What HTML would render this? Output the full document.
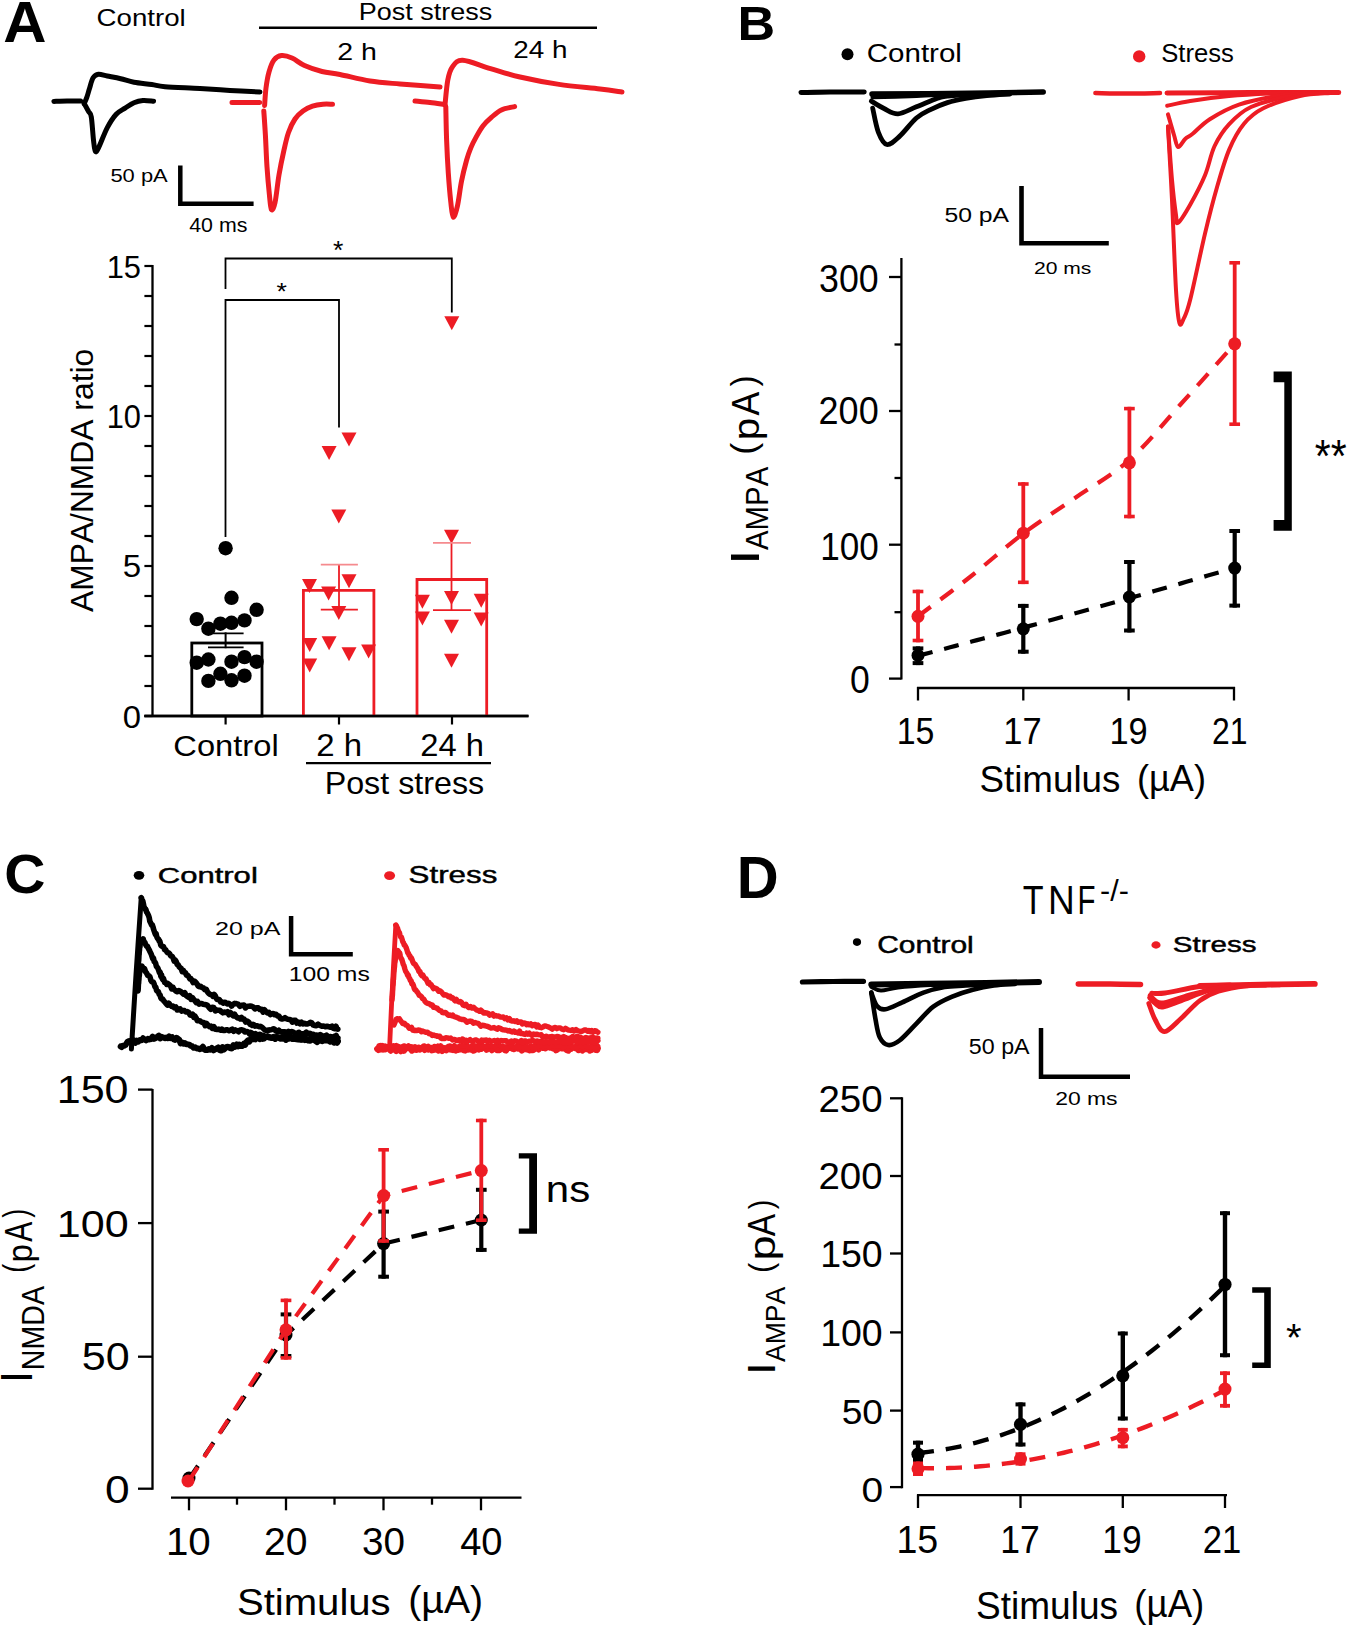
<!DOCTYPE html>
<html><head><meta charset="utf-8"><style>
html,body{margin:0;padding:0;background:#fff;}
svg{display:block;font-family:"Liberation Sans", sans-serif;font-kerning:none;}
</style></head><body>
<svg width="1348" height="1628" viewBox="0 0 1348 1628">
<rect width="1348" height="1628" fill="#fff"/>
<text transform="translate(3.31 41.5) scale(1.0306 1)" font-size="58.14" font-weight="bold" fill="#000000">A</text>
<text transform="translate(96.59 26) scale(1.1597 1)" font-size="23.87" fill="#000000">Control</text>
<text transform="translate(358.78 19.5) scale(1.0931 1)" font-size="24.71" fill="#000000">Post stress</text>
<line x1="259" y1="27.8" x2="597" y2="27.8" stroke="#000000" stroke-width="2.6" stroke-linecap="butt"/>
<text transform="translate(337.16 59.7) scale(1.2099 1)" font-size="23.6" fill="#000000">2 h</text>
<text transform="translate(513.2 58.4) scale(1.1467 1)" font-size="24.29" fill="#000000">24 h</text>
<path d="M53.9 101.4 C56.08 101.33 62.55 101.07 67 101 C71.45 100.93 78.33 101 80.6 101" fill="none" stroke="#000000" stroke-width="5" stroke-linejoin="round" stroke-linecap="round"/>
<path d="M84.2 103.6 C84.63 102.57 85.92 99.92 86.8 97.4 C87.68 94.88 88.45 91.77 89.5 88.5 C90.55 85.23 91.62 80.18 93.1 77.8 C94.58 75.42 96.03 74.5 98.4 74.2 C100.77 73.9 103.58 75.25 107.3 76 C111.02 76.75 116.25 77.65 120.7 78.7 C125.15 79.75 128.82 81.33 134 82.3 C139.18 83.27 146.63 83.77 151.8 84.5 C156.97 85.23 156.97 86.03 165 86.7 C173.03 87.37 189.17 87.87 200 88.5 C210.83 89.13 220 89.92 230 90.5 C240 91.08 255 91.75 260 92" fill="none" stroke="#000000" stroke-width="5" stroke-linejoin="round" stroke-linecap="round"/>
<path d="M84.2 103.6 C84.93 104.93 87.42 109.37 88.6 111.6 C89.78 113.83 90.48 112.25 91.3 117 C92.12 121.75 92.83 134.4 93.5 140.1 C94.17 145.8 94.48 149.87 95.3 151.2 C96.12 152.53 96.4 152.02 98.4 148.1 C100.4 144.18 104.33 133.33 107.3 127.7 C110.27 122.07 113.23 117.57 116.2 114.3 C119.17 111.03 122.13 110.03 125.1 108.1 C128.07 106.17 131.03 103.97 134 102.7 C136.97 101.43 139.63 100.75 142.9 100.5 C146.17 100.25 151.82 101.08 153.6 101.2" fill="none" stroke="#000000" stroke-width="5" stroke-linejoin="round" stroke-linecap="round"/>
<path d="M232 102.5 C234.5 102.5 242.37 102.48 247 102.5 C251.63 102.52 257.67 102.58 259.8 102.6" fill="none" stroke="#ED1C24" stroke-width="5" stroke-linejoin="round" stroke-linecap="round"/>
<path d="M264.6 105.4 C264.83 102.5 265.27 93.57 266 88 C266.73 82.43 267.67 76.67 269 72 C270.33 67.33 271.92 62.73 274 60 C276.08 57.27 278.5 55.93 281.5 55.6 C284.5 55.27 288.17 56.35 292 58 C295.83 59.65 299.5 63.25 304.5 65.5 C309.5 67.75 316.08 70 322 71.5 C327.92 73 332 72.92 340 74.5 C348 76.08 360 79.42 370 81 C380 82.58 388.33 83 400 84 C411.67 85 433.33 86.5 440 87" fill="none" stroke="#ED1C24" stroke-width="5" stroke-linejoin="round" stroke-linecap="round"/>
<path d="M263.8 111 C264.07 115 264.87 125.68 265.4 135 C265.93 144.32 266.33 156.93 267 166.9 C267.67 176.87 268.67 187.7 269.4 194.8 C270.13 201.9 270.47 208.17 271.4 209.5 C272.33 210.83 273.73 208.57 275 202.8 C276.27 197.03 277.53 183.55 279 174.9 C280.47 166.25 282.22 157.97 283.8 150.9 C285.38 143.83 286.63 137.82 288.5 132.5 C290.37 127.18 292.58 122.58 295 119 C297.42 115.42 300.08 113.13 303 111 C305.92 108.87 309.18 107.33 312.5 106.2 C315.82 105.07 319.57 104.53 322.9 104.2 C326.23 103.87 330.9 104.2 332.5 104.2" fill="none" stroke="#ED1C24" stroke-width="5" stroke-linejoin="round" stroke-linecap="round"/>
<path d="M415 101 C417.5 101.25 425.15 101.92 430 102.5 C434.85 103.08 441.75 104.17 444.1 104.5" fill="none" stroke="#ED1C24" stroke-width="5" stroke-linejoin="round" stroke-linecap="round"/>
<path d="M445 105 C445.47 100.83 446.55 86.37 447.8 80 C449.05 73.63 450.02 70.08 452.5 66.8 C454.98 63.52 456.37 60 462.7 60.3 C469.03 60.6 480.95 65.82 490.5 68.6 C500.05 71.38 508.58 74.37 520 77 C531.42 79.63 545.67 82.4 559 84.4 C572.33 86.4 589.5 87.73 600 89 C610.5 90.27 618.33 91.5 622 92" fill="none" stroke="#ED1C24" stroke-width="5" stroke-linejoin="round" stroke-linecap="round"/>
<path d="M445.8 106.6 C445.93 112.13 446.18 128.73 446.6 139.8 C447.02 150.87 447.6 162.63 448.3 173 C449 183.37 449.98 194.67 450.8 202 C451.62 209.33 452.1 216.32 453.2 217 C454.3 217.68 456.02 212.07 457.4 206.1 C458.78 200.13 459.98 188.8 461.5 181.2 C463.02 173.6 464.97 166.02 466.5 160.5 C468.03 154.98 469.03 152.12 470.7 148.1 C472.37 144.08 474.43 140.13 476.5 136.4 C478.57 132.67 480.62 128.87 483.1 125.7 C485.58 122.53 488.35 120.03 491.4 117.4 C494.45 114.77 497.53 111.7 501.4 109.9 C505.27 108.1 512.4 107.15 514.6 106.6" fill="none" stroke="#ED1C24" stroke-width="5" stroke-linejoin="round" stroke-linecap="round"/>
<path d="M180.3 165.5 L180.3 203.8 L253.6 203.8" fill="none" stroke="#000000" stroke-width="4.5" stroke-linejoin="miter"/>
<text transform="translate(110.42 181.6) scale(1.1515 1)" font-size="19.05" fill="#000000">50 pA</text>
<text transform="translate(189.21 231.8) scale(1.0966 1)" font-size="19.48" fill="#000000">40 ms</text>
<line x1="152.5" y1="265" x2="152.5" y2="717" stroke="#000000" stroke-width="2.3" stroke-linecap="butt"/>
<line x1="144.4" y1="716" x2="152.5" y2="716" stroke="#000000" stroke-width="2.2" stroke-linecap="butt"/>
<line x1="144.4" y1="686" x2="152.5" y2="686" stroke="#000000" stroke-width="2.2" stroke-linecap="butt"/>
<line x1="144.4" y1="656" x2="152.5" y2="656" stroke="#000000" stroke-width="2.2" stroke-linecap="butt"/>
<line x1="144.4" y1="626" x2="152.5" y2="626" stroke="#000000" stroke-width="2.2" stroke-linecap="butt"/>
<line x1="144.4" y1="596" x2="152.5" y2="596" stroke="#000000" stroke-width="2.2" stroke-linecap="butt"/>
<line x1="144.4" y1="566" x2="152.5" y2="566" stroke="#000000" stroke-width="2.2" stroke-linecap="butt"/>
<line x1="144.4" y1="536" x2="152.5" y2="536" stroke="#000000" stroke-width="2.2" stroke-linecap="butt"/>
<line x1="144.4" y1="506" x2="152.5" y2="506" stroke="#000000" stroke-width="2.2" stroke-linecap="butt"/>
<line x1="144.4" y1="476" x2="152.5" y2="476" stroke="#000000" stroke-width="2.2" stroke-linecap="butt"/>
<line x1="144.4" y1="446" x2="152.5" y2="446" stroke="#000000" stroke-width="2.2" stroke-linecap="butt"/>
<line x1="144.4" y1="416" x2="152.5" y2="416" stroke="#000000" stroke-width="2.2" stroke-linecap="butt"/>
<line x1="144.4" y1="386" x2="152.5" y2="386" stroke="#000000" stroke-width="2.2" stroke-linecap="butt"/>
<line x1="144.4" y1="356" x2="152.5" y2="356" stroke="#000000" stroke-width="2.2" stroke-linecap="butt"/>
<line x1="144.4" y1="326" x2="152.5" y2="326" stroke="#000000" stroke-width="2.2" stroke-linecap="butt"/>
<line x1="144.4" y1="296" x2="152.5" y2="296" stroke="#000000" stroke-width="2.2" stroke-linecap="butt"/>
<line x1="144.4" y1="266" x2="152.5" y2="266" stroke="#000000" stroke-width="2.2" stroke-linecap="butt"/>
<line x1="144.4" y1="716" x2="528.5" y2="716" stroke="#000000" stroke-width="2.4" stroke-linecap="butt"/>
<line x1="225.6" y1="716" x2="225.6" y2="724.5" stroke="#000000" stroke-width="2.2" stroke-linecap="butt"/>
<line x1="339" y1="716" x2="339" y2="724.5" stroke="#000000" stroke-width="2.2" stroke-linecap="butt"/>
<line x1="452" y1="716" x2="452" y2="724.5" stroke="#000000" stroke-width="2.2" stroke-linecap="butt"/>
<text transform="translate(106.65 278.2) scale(0.9570 1)" font-size="32.27" fill="#000000">15</text>
<text transform="translate(106.65 428) scale(0.9210 1)" font-size="33.43" fill="#000000">10</text>
<text transform="translate(122.67 577.4) scale(1.0403 1)" font-size="31.83" fill="#000000">5</text>
<text transform="translate(122.72 727.6) scale(1.0225 1)" font-size="32.12" fill="#000000">0</text>
<text transform="translate(93 612.06) rotate(-90) scale(1.0023 1)" font-size="31.74" fill="#000000">AMPA/NMDA ratio</text>
<text transform="translate(173.34 756) scale(1.1276 1)" font-size="28.98" fill="#000000">Control</text>
<text transform="translate(316.34 755.8) scale(1.0705 1)" font-size="30.78" fill="#000000">2 h</text>
<text transform="translate(420.25 755.8) scale(1.0630 1)" font-size="30.78" fill="#000000">24 h</text>
<line x1="306" y1="763.2" x2="491" y2="763.2" stroke="#000000" stroke-width="2.2" stroke-linecap="butt"/>
<clipPath id="psclip"><rect x="300" y="760" width="200" height="34.5"/></clipPath>
<g clip-path="url(#psclip)">
<text transform="translate(324.65 793.8) scale(1.0417 1)" font-size="30.96" fill="#000000">Post stress</text>
</g>
<path d="M225.5 289 L225.5 258.5 L451.8 258.5 L451.8 312.5" fill="none" stroke="#000000" stroke-width="1.8"/>
<path d="M225.5 537 L225.5 300 L339 300 L339 427.5" fill="none" stroke="#000000" stroke-width="1.8"/>
<text transform="translate(333.07 259.04) scale(1.0485 1)" font-size="25.35" fill="#000000">*</text>
<text transform="translate(276.57 300.16) scale(1.0978 1)" font-size="24.21" fill="#000000">*</text>
<rect x="191.8" y="643" width="70.2" height="73" fill="none" stroke="#000" stroke-width="2.8"/>
<path d="M303.4 716 V590.3 H373.9 V716" fill="none" stroke="#ED1C24" stroke-width="2.8"/>
<path d="M417 716 V579.5 H486.7 V716" fill="none" stroke="#ED1C24" stroke-width="2.8"/>
<line x1="144.4" y1="716" x2="528.5" y2="716" stroke="#000000" stroke-width="2.4" stroke-linecap="butt"/>
<circle cx="225.6" cy="548.2" r="7.2" fill="#000000"/>
<circle cx="231.5" cy="597.8" r="7.2" fill="#000000"/>
<circle cx="256.6" cy="609.8" r="7.2" fill="#000000"/>
<circle cx="196.7" cy="619.1" r="7.2" fill="#000000"/>
<circle cx="208.4" cy="628.7" r="7.2" fill="#000000"/>
<circle cx="220.4" cy="623.7" r="7.2" fill="#000000"/>
<circle cx="231.5" cy="622.8" r="7.2" fill="#000000"/>
<circle cx="244.5" cy="620.4" r="7.2" fill="#000000"/>
<circle cx="196.7" cy="662.7" r="7.2" fill="#000000"/>
<circle cx="208.4" cy="659.5" r="7.2" fill="#000000"/>
<circle cx="231.5" cy="661.7" r="7.2" fill="#000000"/>
<circle cx="244.5" cy="657.1" r="7.2" fill="#000000"/>
<circle cx="256.6" cy="661.7" r="7.2" fill="#000000"/>
<circle cx="220.4" cy="673.8" r="7.2" fill="#000000"/>
<circle cx="208.4" cy="680.9" r="7.2" fill="#000000"/>
<circle cx="231.5" cy="680.3" r="7.2" fill="#000000"/>
<circle cx="244.5" cy="675.7" r="7.2" fill="#000000"/>
<line x1="225.6" y1="632.4" x2="225.6" y2="648.2" stroke="#000000" stroke-width="2" stroke-linecap="butt"/>
<line x1="208" y1="633.3" x2="243.6" y2="633.3" stroke="#000000" stroke-width="1.8" stroke-linecap="butt"/>
<line x1="208" y1="647.3" x2="243.6" y2="647.3" stroke="#000000" stroke-width="1.8" stroke-linecap="butt"/>
<path d="M341.5 432.5 L356.5 432.5 L349 446.5 Z" fill="#ED1C24"/>
<path d="M321.6 446 L336.6 446 L329.1 460 Z" fill="#ED1C24"/>
<path d="M331.3 509.4 L346.3 509.4 L338.8 523.4 Z" fill="#ED1C24"/>
<path d="M302 579 L317 579 L309.5 593 Z" fill="#ED1C24"/>
<path d="M341.5 574.3 L356.5 574.3 L349 588.3 Z" fill="#ED1C24"/>
<path d="M321.1 586.4 L336.1 586.4 L328.6 600.4 Z" fill="#ED1C24"/>
<path d="M331.3 605.9 L346.3 605.9 L338.8 619.9 Z" fill="#ED1C24"/>
<path d="M302.2 638 L317.2 638 L309.7 652 Z" fill="#ED1C24"/>
<path d="M321.6 636.2 L336.6 636.2 L329.1 650.2 Z" fill="#ED1C24"/>
<path d="M341.5 647.3 L356.5 647.3 L349 661.3 Z" fill="#ED1C24"/>
<path d="M361.1 644.5 L376.1 644.5 L368.6 658.5 Z" fill="#ED1C24"/>
<path d="M302.2 658.4 L317.2 658.4 L309.7 672.4 Z" fill="#ED1C24"/>
<path d="M444.3 316.3 L459.3 316.3 L451.8 330.3 Z" fill="#ED1C24"/>
<path d="M444 529.8 L459 529.8 L451.5 543.8 Z" fill="#ED1C24"/>
<path d="M414.9 594.7 L429.9 594.7 L422.4 608.7 Z" fill="#ED1C24"/>
<path d="M444 591 L459 591 L451.5 605 Z" fill="#ED1C24"/>
<path d="M473.7 593.8 L488.7 593.8 L481.2 607.8 Z" fill="#ED1C24"/>
<path d="M414.9 611.4 L429.9 611.4 L422.4 625.4 Z" fill="#ED1C24"/>
<path d="M473.7 612.4 L488.7 612.4 L481.2 626.4 Z" fill="#ED1C24"/>
<path d="M444 619.8 L459 619.8 L451.5 633.8 Z" fill="#ED1C24"/>
<path d="M444 653.8 L459 653.8 L451.5 667.8 Z" fill="#ED1C24"/>
<line x1="339" y1="564.7" x2="339" y2="609.6" stroke="#ED1C24" stroke-width="1.8" stroke-linecap="butt"/>
<line x1="320.8" y1="564.7" x2="357.9" y2="564.7" stroke="#F58A8E" stroke-width="1.8" stroke-linecap="butt"/>
<line x1="320.8" y1="609.6" x2="357.9" y2="609.6" stroke="#ED1C24" stroke-width="1.8" stroke-linecap="butt"/>
<line x1="451.5" y1="542.8" x2="451.5" y2="610.1" stroke="#ED1C24" stroke-width="1.8" stroke-linecap="butt"/>
<line x1="433" y1="542.8" x2="471" y2="542.8" stroke="#F58A8E" stroke-width="1.8" stroke-linecap="butt"/>
<line x1="433" y1="610.1" x2="471" y2="610.1" stroke="#ED1C24" stroke-width="1.8" stroke-linecap="butt"/>
<text transform="translate(737.51 40.4) scale(1.0838 1)" font-size="48.11" font-weight="bold" fill="#000000">B</text>
<circle cx="847.5" cy="54.3" r="6" fill="#000000"/>
<text transform="translate(866.8 62.4) scale(1.1627 1)" font-size="25.39" fill="#000000">Control</text>
<circle cx="1139.2" cy="56.4" r="6.2" fill="#ED1C24"/>
<text transform="translate(1161.14 62) scale(0.9841 1)" font-size="26.07" fill="#000000">Stress</text>
<path d="M801 92.5 C805.83 92.42 819.47 92.08 830 92 C840.53 91.92 858.5 92 864.2 92" fill="none" stroke="#000000" stroke-width="5" stroke-linejoin="round" stroke-linecap="round"/>
<path d="M872 94 C885 93.92 921.47 93.83 950 93.5 C978.53 93.17 1027.67 92.25 1043.2 92" fill="none" stroke="#000000" stroke-width="5.5" stroke-linejoin="round" stroke-linecap="round"/>
<path d="M872.7 97 C878.92 96.83 897.95 96.42 910 96 C922.05 95.58 930 95 945 94.5 C960 94 990.83 93.25 1000 93" fill="none" stroke="#000000" stroke-width="4.5" stroke-linejoin="round" stroke-linecap="round"/>
<path d="M871.3 101.1 C873.42 102.33 879.55 106.38 884 108.5 C888.45 110.62 892.6 114.08 898 113.8 C903.4 113.52 909.82 109.38 916.4 106.8 C922.98 104.22 932.33 100.07 937.5 98.3 C942.67 96.53 940.32 96.92 947.4 96.2 C954.48 95.48 974.57 94.37 980 94" fill="none" stroke="#000000" stroke-width="4.8" stroke-linejoin="round" stroke-linecap="round"/>
<path d="M872.7 108.2 C873.63 112.18 875.95 126.05 878.3 132.1 C880.65 138.15 883.27 143.78 886.8 144.5 C890.33 145.22 894.57 140.82 899.5 136.4 C904.43 131.98 911.23 122.47 916.4 118 C921.57 113.53 925.33 112.17 930.5 109.6 C935.67 107.03 941.53 104.48 947.4 102.6 C953.27 100.72 959.13 99.48 965.7 98.3 C972.27 97.12 979.42 96.22 986.8 95.5 C994.18 94.78 1006.13 94.25 1010 94" fill="none" stroke="#000000" stroke-width="4.8" stroke-linejoin="round" stroke-linecap="round"/>
<path d="M1095.4 93 C1100.67 93.08 1116.23 93.5 1127 93.5 C1137.77 93.5 1154.5 93.08 1160 93" fill="none" stroke="#ED1C24" stroke-width="4.5" stroke-linejoin="round" stroke-linecap="round"/>
<path d="M1167 93 C1180.83 92.92 1221.38 92.58 1250 92.5 C1278.62 92.42 1323.92 92.5 1338.7 92.5" fill="none" stroke="#ED1C24" stroke-width="5" stroke-linejoin="round" stroke-linecap="round"/>
<path d="M1167.2 105.8 C1171.05 105 1180 102.62 1190.3 101 C1200.6 99.38 1215.72 97.35 1229 96.1 C1242.28 94.85 1258.17 94.02 1270 93.5 C1281.83 92.98 1295 93.08 1300 93" fill="none" stroke="#ED1C24" stroke-width="4" stroke-linejoin="round" stroke-linecap="round"/>
<path d="M1168 114.4 C1169 117.83 1172.3 129.57 1174 135 C1175.7 140.43 1176.3 146.38 1178.2 147 C1180.1 147.62 1182.98 140.9 1185.4 138.7 C1187.82 136.5 1188.63 137.05 1192.7 133.8 C1196.77 130.55 1202.08 124.07 1209.8 119.2 C1217.52 114.33 1227.3 108.55 1239 104.6 C1250.7 100.65 1268.17 97.43 1280 95.5 C1291.83 93.57 1305 93.42 1310 93" fill="none" stroke="#ED1C24" stroke-width="4" stroke-linejoin="round" stroke-linecap="round"/>
<path d="M1168 126.5 C1168.67 135.42 1170.67 165.25 1172 180 C1173.33 194.75 1174.97 207.9 1176 215 C1177.03 222.1 1175.82 224.37 1178.2 222.6 C1180.58 220.83 1185.83 212.3 1190.3 204.4 C1194.77 196.5 1200.95 184.93 1205 175.2 C1209.05 165.47 1210.57 154.52 1214.6 146 C1218.63 137.48 1223.13 130.6 1229.2 124.1 C1235.27 117.6 1240.87 111.68 1251 107 C1261.13 102.32 1278.5 98.33 1290 96 C1301.5 93.67 1315 93.5 1320 93" fill="none" stroke="#ED1C24" stroke-width="4" stroke-linejoin="round" stroke-linecap="round"/>
<path d="M1168 126.5 C1168.67 138.75 1170.67 172.75 1172 200 C1173.33 227.25 1174.77 269.5 1176 290 C1177.23 310.5 1178.07 318.33 1179.4 323 C1180.73 327.67 1182.18 321.95 1184 318 C1185.82 314.05 1186.8 313.37 1190.3 299.3 C1193.8 285.23 1200.55 252.27 1205 233.6 C1209.45 214.93 1212.97 201.3 1217 187.3 C1221.03 173.3 1224.73 160.15 1229.2 149.6 C1233.67 139.05 1238.12 130.88 1243.8 124 C1249.48 117.12 1253.93 112.97 1263.3 108.3 C1272.67 103.63 1288.88 98.55 1300 96 C1311.12 93.45 1325 93.5 1330 93" fill="none" stroke="#ED1C24" stroke-width="4" stroke-linejoin="round" stroke-linecap="round"/>
<path d="M1021.5 186 L1021.5 243.3 L1108.8 243.3" fill="none" stroke="#000000" stroke-width="4.6"/>
<text transform="translate(944.41 221.5) scale(1.1829 1)" font-size="20.91" fill="#000000">50 pA</text>
<text transform="translate(1033.94 273.7) scale(1.2168 1)" font-size="17.33" fill="#000000">20 ms</text>
<line x1="901.4" y1="258" x2="901.4" y2="679.6" stroke="#000000" stroke-width="2.3" stroke-linecap="butt"/>
<line x1="889" y1="277" x2="901.4" y2="277" stroke="#000000" stroke-width="2.3" stroke-linecap="butt"/>
<line x1="889" y1="411" x2="901.4" y2="411" stroke="#000000" stroke-width="2.3" stroke-linecap="butt"/>
<line x1="889" y1="544.7" x2="901.4" y2="544.7" stroke="#000000" stroke-width="2.3" stroke-linecap="butt"/>
<line x1="889" y1="678.6" x2="901.4" y2="678.6" stroke="#000000" stroke-width="2.3" stroke-linecap="butt"/>
<line x1="894.5" y1="344.5" x2="901.4" y2="344.5" stroke="#000000" stroke-width="2.3" stroke-linecap="butt"/>
<line x1="894.5" y1="478" x2="901.4" y2="478" stroke="#000000" stroke-width="2.3" stroke-linecap="butt"/>
<line x1="894.5" y1="612.2" x2="901.4" y2="612.2" stroke="#000000" stroke-width="2.3" stroke-linecap="butt"/>
<line x1="917" y1="688" x2="1235" y2="688" stroke="#000000" stroke-width="2.3" stroke-linecap="butt"/>
<line x1="918" y1="687" x2="918" y2="700.5" stroke="#000000" stroke-width="2.3" stroke-linecap="butt"/>
<line x1="1023.3" y1="687" x2="1023.3" y2="700.5" stroke="#000000" stroke-width="2.3" stroke-linecap="butt"/>
<line x1="1128.6" y1="687" x2="1128.6" y2="700.5" stroke="#000000" stroke-width="2.3" stroke-linecap="butt"/>
<line x1="1234" y1="687" x2="1234" y2="700.5" stroke="#000000" stroke-width="2.3" stroke-linecap="butt"/>
<text transform="translate(819.04 291.5) scale(0.9244 1)" font-size="38.68" fill="#000000">300</text>
<text transform="translate(818.59 423.6) scale(0.9315 1)" font-size="38.68" fill="#000000">200</text>
<text transform="translate(820.13 559.8) scale(0.9207 1)" font-size="38.11" fill="#000000">100</text>
<text transform="translate(850.11 692.8) scale(0.9262 1)" font-size="38.4" fill="#000000">0</text>
<text transform="translate(896.72 744) scale(0.8970 1)" font-size="37.79" fill="#000000">15</text>
<text transform="translate(1003.37 744) scale(0.9126 1)" font-size="37.79" fill="#000000">17</text>
<text transform="translate(1109.38 744) scale(0.9231 1)" font-size="37.25" fill="#000000">19</text>
<text transform="translate(1212.1 744) scale(0.8558 1)" font-size="37.25" fill="#000000">21</text>
<text transform="translate(979.43 792.4) scale(0.9979 1)" font-size="36.85" fill="#000000">Stimulus</text>
<text transform="translate(1136.96 790.93) scale(0.9906 1)" font-size="36.48" fill="#000000">(µA)</text>
<text transform="translate(758.8 565.34) rotate(-90) scale(1.4027 1)" font-size="41.28" fill="#000000">I</text>
<text transform="translate(768.2 549.96) rotate(-90) scale(0.9353 1)" font-size="31.4" fill="#000000">AMPA</text>
<text transform="translate(755.6 454.82) rotate(-90) scale(1.0303 1)" font-size="34.78" fill="#000000">(</text>
<text transform="translate(759.19 440.31) rotate(-90) scale(1.0886 1)" font-size="37.18" fill="#000000">p</text>
<text transform="translate(758.8 415.47) rotate(-90) scale(0.9069 1)" font-size="39.24" fill="#000000">A</text>
<text transform="translate(755.6 386.59) rotate(-90) scale(0.9544 1)" font-size="34.78" fill="#000000">)</text>
<path d="M918 616.3 C926.67 609.75 952.45 590.8 970 577 C987.55 563.2 1005.8 546.67 1023.3 533.5 C1040.8 520.33 1057.32 510.25 1075 498 C1092.68 485.75 1111.9 475.5 1129.4 460 C1146.9 444.5 1162.45 424.37 1180 405 C1197.55 385.63 1225.58 354 1234.7 343.8" fill="none" stroke="#ED1C24" stroke-width="4.2" stroke-dasharray="16 12"/>
<line x1="918" y1="589.7" x2="918" y2="642.3" stroke="#ED1C24" stroke-width="3.8" stroke-linecap="butt"/>
<line x1="912.65" y1="591.5" x2="923.35" y2="591.5" stroke="#ED1C24" stroke-width="3.6" stroke-linecap="butt"/>
<line x1="912.65" y1="640.5" x2="923.35" y2="640.5" stroke="#ED1C24" stroke-width="3.6" stroke-linecap="butt"/>
<circle cx="918" cy="616.3" r="6.5" fill="#ED1C24"/>
<line x1="1023.3" y1="482.2" x2="1023.3" y2="584.1" stroke="#ED1C24" stroke-width="3.8" stroke-linecap="butt"/>
<line x1="1017.95" y1="484" x2="1028.65" y2="484" stroke="#ED1C24" stroke-width="3.6" stroke-linecap="butt"/>
<line x1="1017.95" y1="582.3" x2="1028.65" y2="582.3" stroke="#ED1C24" stroke-width="3.6" stroke-linecap="butt"/>
<circle cx="1023.3" cy="533.2" r="6.5" fill="#ED1C24"/>
<line x1="1129.4" y1="406.8" x2="1129.4" y2="518.3" stroke="#ED1C24" stroke-width="3.8" stroke-linecap="butt"/>
<line x1="1124.05" y1="408.6" x2="1134.75" y2="408.6" stroke="#ED1C24" stroke-width="3.6" stroke-linecap="butt"/>
<line x1="1124.05" y1="516.5" x2="1134.75" y2="516.5" stroke="#ED1C24" stroke-width="3.6" stroke-linecap="butt"/>
<circle cx="1129.4" cy="462.8" r="6.5" fill="#ED1C24"/>
<line x1="1234.7" y1="261" x2="1234.7" y2="426" stroke="#ED1C24" stroke-width="3.8" stroke-linecap="butt"/>
<line x1="1229.35" y1="262.8" x2="1240.05" y2="262.8" stroke="#ED1C24" stroke-width="3.6" stroke-linecap="butt"/>
<line x1="1229.35" y1="424.2" x2="1240.05" y2="424.2" stroke="#ED1C24" stroke-width="3.6" stroke-linecap="butt"/>
<circle cx="1234.7" cy="343.8" r="6.5" fill="#ED1C24"/>
<path d="M918 655.78 L923.37 654.38 L928.74 652.97 L934.1 651.56 L939.47 650.14 L944.84 648.72 L950.21 647.3 L955.57 645.88 L960.94 644.45 L966.31 643.02 L971.68 641.59 L977.05 640.15 L982.41 638.71 L987.78 637.27 L993.15 635.82 L998.52 634.38 L1003.88 632.93 L1009.25 631.47 L1014.62 630.01 L1019.99 628.55 L1025.36 627.09 L1030.72 625.63 L1036.09 624.16 L1041.46 622.69 L1046.83 621.21 L1052.19 619.73 L1057.56 618.25 L1062.93 616.77 L1068.3 615.28 L1073.67 613.79 L1079.03 612.3 L1084.4 610.8 L1089.77 609.3 L1095.14 607.8 L1100.51 606.3 L1105.87 604.79 L1111.24 603.28 L1116.61 601.77 L1121.98 600.25 L1127.34 598.73 L1132.71 597.21 L1138.08 595.68 L1143.45 594.15 L1148.82 592.62 L1154.18 591.09 L1159.55 589.55 L1164.92 588.01 L1170.29 586.47 L1175.65 584.92 L1181.02 583.37 L1186.39 581.82 L1191.76 580.26 L1197.13 578.71 L1202.49 577.15 L1207.86 575.58 L1213.23 574.01 L1218.6 572.44 L1223.96 570.87 L1229.33 569.29 L1234.7 567.72" fill="none" stroke="#000000" stroke-width="4.2" stroke-dasharray="15 12" stroke-linecap="butt" stroke-linejoin="round"/>
<line x1="918" y1="646.4" x2="918" y2="665.1" stroke="#000000" stroke-width="4.2" stroke-linecap="butt"/>
<line x1="912.65" y1="648.4" x2="923.35" y2="648.4" stroke="#000000" stroke-width="4" stroke-linecap="butt"/>
<line x1="912.65" y1="663.1" x2="923.35" y2="663.1" stroke="#000000" stroke-width="4" stroke-linecap="butt"/>
<circle cx="918" cy="655.4" r="6.5" fill="#000000"/>
<line x1="1023.3" y1="603.9" x2="1023.3" y2="653.7" stroke="#000000" stroke-width="4.2" stroke-linecap="butt"/>
<line x1="1017.95" y1="605.9" x2="1028.65" y2="605.9" stroke="#000000" stroke-width="4" stroke-linecap="butt"/>
<line x1="1017.95" y1="651.7" x2="1028.65" y2="651.7" stroke="#000000" stroke-width="4" stroke-linecap="butt"/>
<circle cx="1023.3" cy="628.8" r="6.5" fill="#000000"/>
<line x1="1129.4" y1="560" x2="1129.4" y2="632.5" stroke="#000000" stroke-width="4.2" stroke-linecap="butt"/>
<line x1="1124.05" y1="562" x2="1134.75" y2="562" stroke="#000000" stroke-width="4" stroke-linecap="butt"/>
<line x1="1124.05" y1="630.5" x2="1134.75" y2="630.5" stroke="#000000" stroke-width="4" stroke-linecap="butt"/>
<circle cx="1129.4" cy="597" r="6.5" fill="#000000"/>
<line x1="1234.7" y1="529" x2="1234.7" y2="607.6" stroke="#000000" stroke-width="4.2" stroke-linecap="butt"/>
<line x1="1229.35" y1="531" x2="1240.05" y2="531" stroke="#000000" stroke-width="4" stroke-linecap="butt"/>
<line x1="1229.35" y1="605.6" x2="1240.05" y2="605.6" stroke="#000000" stroke-width="4" stroke-linecap="butt"/>
<circle cx="1234.7" cy="568.1" r="6.5" fill="#000000"/>
<path d="M1273.6 371.6 H1291.8 V530.7 H1273.6 V520 H1284.3 V382.2 H1273.6 Z" fill="#000"/>
<text transform="translate(1314.84 472.35) scale(0.8964 1)" font-size="45.57" fill="#000000">**</text>
<text transform="translate(4.36 893.4) scale(1.0269 1)" font-size="55.56" font-weight="bold" fill="#000000">C</text>
<ellipse cx="139" cy="875.3" rx="5.3" ry="4.4" fill="#000"/>
<text transform="translate(157.72 882.5) scale(1.3883 1)" font-size="22.36" fill="#000000" stroke="#000000" stroke-width="0.43">Control</text>
<ellipse cx="389.6" cy="875.6" rx="5.5" ry="4.3" fill="#ED1C24"/>
<text transform="translate(408.58 882.8) scale(1.2939 1)" font-size="24.2" fill="#000000" stroke="#000000" stroke-width="0.46">Stress</text>
<path d="M120.7 1046.46 L121.59 1047.06 L122.72 1045.73 L124.07 1045.74 L125.63 1044.92 L127.38 1042.01 L129.31 1040.97 L131.4 1043.21 L132.62 1040.79 L133.93 1040.37 L135.32 1042.79 L136.78 1040.58 L138.29 1041.6 L139.86 1040.01 L141.45 1040.31 L143.06 1038.28 L144.68 1039.77 L146.3 1040.37 L147.9 1038.9 L149.47 1039.47 L151 1039.02 L152.52 1036.63 L154.06 1038.91 L155.61 1038.09 L157.18 1036.82 L158.74 1035.64 L160.3 1038.45 L161.85 1036.87 L163.38 1037.63 L164.89 1038.12 L166.36 1037.49 L167.79 1038.26 L169.17 1036.45 L170.5 1038.08 L172.14 1037.16 L173.68 1039.45 L175.14 1039.9 L176.55 1037.83 L177.92 1038.77 L179.26 1039.89 L180.61 1043.41 L181.97 1042.28 L183.36 1043.66 L184.8 1043.08 L186.28 1044.33 L187.76 1044.36 L189.24 1044.67 L190.74 1045.91 L192.24 1046.28 L193.76 1047.78 L195.29 1047.3 L196.84 1048.49 L198.41 1048.51 L200 1049.27 L201.45 1048.36 L202.89 1046.77 L204.34 1049.52 L205.8 1050.12 L207.27 1050.11 L208.76 1049.08 L210.28 1049.75 L211.84 1048.05 L213.44 1050.34 L215.09 1049.42 L216.8 1048.33 L218.18 1047.45 L219.6 1050.18 L221.05 1050.53 L222.53 1047.12 L224.03 1049.5 L225.56 1047.88 L227.11 1046.7 L228.67 1046.95 L230.24 1048.37 L231.83 1048.43 L233.42 1045.11 L235.01 1046.8 L236.61 1044.37 L238.2 1046.39 L239.59 1044.6 L240.98 1046.12 L242.37 1045.97 L243.77 1043.71 L245.17 1044.9 L246.58 1041.82 L247.99 1040.37 L249.42 1041.63 L250.85 1038.98 L252.3 1038.99 L253.76 1039.19 L255.23 1039.4 L256.72 1037.29 L258.23 1036.47 L259.75 1039.09 L261.3 1036.83 L262.74 1038.97 L264.13 1038.61 L265.5 1036.65 L266.84 1036.89 L268.18 1037.1 L269.52 1037.56 L270.88 1037.44 L272.27 1037.39 L273.69 1037.7 L275.17 1038.97 L276.72 1037.55 L278.34 1037.41 L280.05 1038.61 L281.85 1037.02 L283.77 1037.4 L285.82 1039.98 L288 1038.48 L289.2 1038.65 L290.49 1036.79 L291.85 1038.33 L293.28 1039.02 L294.78 1037.11 L296.34 1039.36 L297.94 1039.53 L299.59 1037.58 L301.29 1039.74 L303.01 1039.29 L304.76 1040.18 L306.54 1039.13 L308.33 1040.54 L310.12 1040.78 L311.92 1038.34 L313.72 1038.61 L315.51 1040.96 L317.29 1042.12 L319.04 1039.69 L320.76 1040.56 L322.45 1041.18 L324.1 1040.32 L325.71 1040.6 L327.26 1040.53 L328.76 1040.85 L330.19 1041.77 L331.55 1040.81 L332.83 1041.18 L334.04 1042.69 L335.15 1040.09 L336.17 1042.12 L337.09 1042.79 L337.9 1041.32" fill="none" stroke="#000000" stroke-width="6" stroke-linejoin="round" stroke-linecap="round"/>
<path d="M131.4 1049 C132.17 1036.67 134.37 1000.08 136 975 C137.63 949.92 140.33 911.25 141.2 898.5" fill="none" stroke="#000000" stroke-width="5" stroke-linejoin="round" stroke-linecap="round"/>
<path d="M141.2 897.71 L141.52 898.11 L141.91 899.96 L142.36 900.35 L142.85 901.33 L143.39 903.69 L143.98 906.69 L144.59 907.87 L145.22 909.36 L145.88 909.36 L146.55 911.97 L147.22 912.85 L147.89 914.2 L148.56 915.63 L149.2 917.54 L149.83 921.2 L150.43 922.34 L151 923.62 L151.66 925.16 L152.31 924.9 L152.95 926.79 L153.58 929.28 L154.21 931.1 L154.83 932.95 L155.45 934.48 L156.07 933.52 L156.68 936.46 L157.3 938 L157.92 938.79 L158.54 939.04 L159.17 941.11 L159.8 941.07 L160.77 945.15 L161.72 946.27 L162.66 946.47 L163.6 946.78 L164.56 949.6 L165.54 949.59 L166.57 951.58 L167.65 952.67 L168.8 953.03 L169.64 953.8 L170.5 955.48 L171.39 956.16 L172.3 956.57 L173.24 958.26 L174.19 961.07 L175.15 960.05 L176.14 961.37 L177.13 964.41 L178.14 964.66 L179.15 966.68 L180.17 967.72 L181.2 968.53 L182.23 971.66 L183.28 970.42 L184.34 972.23 L185.4 972.75 L186.48 975.19 L187.58 975.25 L188.68 976.61 L189.79 978.88 L190.91 978.68 L192.05 980.46 L193.19 982.53 L194.34 981.13 L195.5 981.98 L196.78 983.51 L198.09 986.1 L199.42 986.6 L200.77 986.39 L202.14 987.57 L203.51 987.98 L204.87 989.69 L206.24 989.28 L207.59 992.09 L208.92 993.52 L210.22 994.53 L211.5 994.7 L212.86 996.32 L214.19 994.46 L215.5 996.25 L216.79 999.26 L218.07 999.65 L219.34 999.49 L220.6 1001.98 L221.87 1001.84 L223.14 1003.2 L224.41 1002.3 L225.7 1002.57 L227.24 1003.87 L228.7 1003.3 L230.13 1004.26 L231.57 1006.12 L233.04 1004.31 L234.58 1003.42 L236.23 1003.63 L238.02 1004.2 L240 1006.35 L241.28 1005.33 L242.63 1005.35 L244.03 1005.03 L245.48 1007.95 L246.98 1006.55 L248.52 1006.19 L250.09 1006.05 L251.69 1006.36 L253.31 1007.04 L254.94 1008.92 L256.58 1007.71 L258.22 1007.79 L259.86 1009.56 L261.49 1009.28 L263.1 1011.99 L264.51 1009.82 L265.94 1011.53 L267.36 1012.8 L268.8 1012.27 L270.24 1014.59 L271.68 1013.67 L273.13 1013.58 L274.59 1014.72 L276.06 1014.23 L277.53 1016.01 L279.01 1016.1 L280.49 1018.62 L281.98 1019.03 L283.48 1018.58 L284.98 1017.69 L286.49 1018.84 L288 1019.23 L289.44 1019.49 L290.91 1019.9 L292.39 1022.12 L293.88 1020.23 L295.38 1020.22 L296.9 1023.1 L298.41 1022.24 L299.94 1023.73 L301.46 1022.18 L302.97 1023.87 L304.49 1023.32 L305.99 1023.91 L307.49 1023.96 L308.97 1023.39 L310.43 1022.37 L311.88 1022.92 L313.3 1025.11 L314.7 1025.4 L316.4 1025.74 L318.15 1024.25 L319.94 1025.49 L321.74 1026.2 L323.55 1026.01 L325.35 1026.8 L327.11 1026.21 L328.82 1026.86 L330.46 1027.21 L332.01 1026.19 L333.47 1028.38 L334.8 1028.69 L336 1026.23 L337.03 1029.08 L337.9 1029.19" fill="none" stroke="#000000" stroke-width="5.6" stroke-linejoin="round" stroke-linecap="round"/>
<path d="M137 990.37 L137.06 989.9 L137.13 989.09 L137.2 988.43 L137.27 986.6 L137.34 985.81 L137.41 981.69 L137.48 981.46 L137.56 981.28 L137.65 978.7 L137.73 977.69 L137.82 973.51 L137.91 972.72 L138.01 970.16 L138.11 969.12 L138.21 967.28 L138.32 963.65 L138.44 962.32 L138.56 960.58 L138.69 960.58 L138.82 958.26 L138.96 954.61 L139.1 954.74 L139.26 951.05 L139.41 950.84 L139.58 947.8 L139.75 945.95 L139.94 947.19 L140.12 943.94 L140.32 942.82 L140.53 944.11 L140.74 942.9 L140.97 940.43 L141.2 941.88 L141.8 939.81 L142.47 940.01 L143.2 938.91 L143.98 941.9 L144.8 942.31 L145.66 944.63 L146.54 946.15 L147.44 946.28 L148.35 948.5 L149.26 949.99 L150.16 951.97 L151.04 953.68 L151.89 956.16 L152.7 958.61 L153.44 958.16 L154.19 961.62 L154.95 962.09 L155.7 963.55 L156.46 966.65 L157.21 967.23 L157.96 968.33 L158.69 970.4 L159.42 972.61 L160.13 972.16 L160.83 976.35 L161.5 974.85 L162.16 978.28 L162.79 979.72 L163.4 978.25 L164.71 982.57 L165.77 982.72 L166.72 984.37 L167.73 983.48 L168.94 984.42 L170.5 985.84 L171.64 988.87 L172.9 987.3 L174.26 989.67 L175.71 990.88 L177.21 991.62 L178.74 990.53 L180.29 991.28 L181.83 992.53 L183.34 994.04 L184.8 992.82 L186.08 995.49 L187.34 996.42 L188.58 997.41 L189.82 995.76 L191.06 999.32 L192.31 997.59 L193.58 999.17 L194.87 1000.8 L196.2 1002.53 L197.57 1001.57 L199 1004.07 L200.36 1003.6 L201.76 1003.55 L203.2 1004.21 L204.67 1004.42 L206.16 1004.74 L207.67 1005.57 L209.2 1007.78 L210.73 1009.29 L212.27 1007.36 L213.79 1007.57 L215.31 1010.93 L216.8 1010.1 L218.29 1010.22 L219.81 1010.18 L221.33 1011.7 L222.86 1012.82 L224.39 1012.12 L225.92 1012.42 L227.43 1011.73 L228.93 1014.72 L230.4 1012.49 L231.84 1014.32 L233.24 1015.82 L234.6 1014.19 L236.14 1016.63 L237.57 1017.95 L238.93 1017.69 L240.24 1018.87 L241.53 1017.56 L242.84 1019.28 L244.21 1019.16 L245.65 1021.99 L247.2 1021.07 L248.9 1022.26 L250.1 1024.4 L251.17 1024.47 L252.16 1025.35 L253.12 1024.29 L254.09 1024.9 L255.1 1026.13 L256.21 1025.88 L257.46 1025.82 L258.88 1026.67 L260.53 1026.4 L262.44 1027.6 L264.66 1029.95 L267.23 1030.37 L270.2 1029.88 L271.23 1029.66 L272.33 1029.34 L273.51 1028.76 L274.75 1029.48 L276.06 1031.18 L277.42 1031.61 L278.85 1030.27 L280.33 1031.73 L281.85 1031.87 L283.43 1031.82 L285.04 1031.91 L286.69 1032.38 L288.38 1031.38 L290.09 1032.59 L291.84 1031.5 L293.6 1032.3 L295.39 1033.34 L297.19 1033.29 L299 1032.29 L300.82 1034.42 L302.65 1033.72 L304.47 1033.7 L306.29 1032.17 L308.11 1033.95 L309.91 1033.24 L311.7 1034.68 L313.47 1034.22 L315.22 1035.45 L316.94 1035.11 L318.63 1035.72 L320.29 1034.53 L321.91 1035.58 L323.49 1036.01 L325.03 1036.42 L326.51 1035.13 L327.95 1036.75 L329.33 1036.96 L330.65 1036.54 L331.91 1037.53 L333.09 1037.59 L334.21 1036.38 L335.26 1036.52 L336.22 1035.52 L337.1 1037.63 L337.9 1038.01" fill="none" stroke="#000000" stroke-width="5.6" stroke-linejoin="round" stroke-linecap="round"/>
<path d="M138 990.88 L138.11 990.03 L138.22 987.78 L138.33 985.62 L138.45 983.14 L138.59 983.27 L138.73 980.74 L138.9 979.6 L139.08 976.44 L139.29 975.68 L139.53 972.35 L139.79 972.25 L140.09 970.56 L140.42 968.39 L140.79 967.86 L141.2 967.75 L141.9 966.06 L142.7 967.48 L143.57 969.03 L144.52 968.58 L145.53 971.67 L146.58 973 L147.66 975.3 L148.77 975.64 L149.88 976.75 L151 980.6 L151.75 981.77 L152.52 981.94 L153.31 982.24 L154.12 983.96 L154.94 986.74 L155.77 987.21 L156.61 990.71 L157.46 991.14 L158.31 991.48 L159.16 994.31 L160.02 994.83 L160.87 997.89 L161.72 999.07 L162.57 999.03 L163.4 1000.43 L164.78 1002.05 L166.14 1003.6 L167.5 1005.15 L168.86 1003.19 L170.22 1004.97 L171.6 1006.4 L173.01 1006.18 L174.44 1007.73 L175.9 1006.97 L177.26 1010 L178.66 1009.54 L180.09 1008.87 L181.54 1011.03 L183 1010.49 L184.46 1010.65 L185.91 1012.05 L187.34 1011.59 L188.74 1012.43 L190.1 1015.1 L191.4 1015.38 L192.62 1014.18 L193.81 1017.39 L194.97 1016.06 L196.12 1017.99 L197.3 1020.68 L198.51 1020.78 L199.79 1020.76 L201.14 1021.84 L202.6 1022.67 L203.88 1022.5 L205.2 1025.71 L206.55 1023.45 L207.94 1025.12 L209.37 1026.63 L210.84 1026.1 L212.34 1028.34 L213.88 1026.61 L215.45 1029.25 L217.07 1029.41 L218.71 1029.14 L220.4 1030.17 L221.78 1029.1 L223.19 1030.48 L224.62 1030.57 L226.09 1029.9 L227.57 1029.91 L229.09 1030.74 L230.62 1029.97 L232.17 1029.12 L233.75 1031.21 L235.34 1029.89 L236.94 1030.69 L238.56 1031.74 L240.2 1030.07 L241.84 1029.83 L243.5 1030.37 L244.83 1031.99 L246.08 1031.55 L247.27 1031.5 L248.4 1032.36 L249.51 1034.08 L250.61 1032.36 L251.73 1033.14 L252.87 1034.86 L254.06 1034.37 L255.32 1033.66 L256.67 1034.6 L258.13 1034.93 L259.71 1034.23 L261.44 1035.24 L263.34 1035.32 L265.41 1037.1 L267.7 1035.92 L270.2 1037.18 L271.29 1038.21 L272.44 1038.16 L273.66 1036.62 L274.95 1037.4 L276.29 1036.64 L277.7 1036.97 L279.15 1037.34 L280.65 1038.35 L282.2 1038.87 L283.79 1037.03 L285.42 1036.27 L287.08 1037.69 L288.77 1036.61 L290.49 1036.62 L292.24 1038.94 L294 1037.05 L295.78 1038.96 L297.58 1037.98 L299.38 1039.79 L301.19 1039.62 L303 1037.34 L304.81 1037.81 L306.62 1040.16 L308.42 1039.24 L310.2 1038.74 L311.98 1039.9 L313.73 1040.07 L315.45 1039.18 L317.16 1039.19 L318.83 1038.16 L320.47 1039.01 L322.07 1038.43 L323.63 1039.94 L325.15 1039.95 L326.62 1038.62 L328.04 1040.14 L329.4 1038.6 L330.7 1038.68 L331.95 1040.36 L333.12 1039.86 L334.23 1041.22 L335.27 1040.46 L336.23 1040.72 L337.1 1039.04 L337.9 1041.2" fill="none" stroke="#000000" stroke-width="5.6" stroke-linejoin="round" stroke-linecap="round"/>
<path d="M377.1 1048.87 L377.8 1048.24 L378.57 1050.04 L379.4 1047.96 L380.29 1049.63 L381.24 1049.02 L382.24 1047.92 L383.3 1049.54 L384.41 1047.85 L385.56 1049.28 L386.76 1047.97 L388.01 1048.05 L389.29 1049.25 L390.62 1050.7 L391.98 1048.17 L393.37 1048.53 L394.8 1049.99 L396.26 1051.14 L397.74 1049.81 L399.25 1049.16 L400.77 1051.25 L402.32 1047.9 L403.89 1050.83 L405.47 1048.78 L407.07 1048.25 L408.67 1048.16 L410.29 1048.84 L411.9 1050.67 L413.53 1048.37 L415.15 1049.81 L416.77 1050.01 L418.39 1049.05 L420 1049.67 L421.13 1047.92 L422.27 1047.9 L423.43 1048.42 L424.6 1050.12 L425.78 1049.2 L426.98 1048.79 L428.2 1049.75 L429.42 1049.27 L430.66 1048.71 L431.91 1050.48 L433.16 1050.12 L434.43 1048.47 L435.71 1049.65 L437 1049.46 L438.3 1050.71 L439.6 1050.17 L440.92 1048.57 L442.24 1051.05 L443.57 1047.93 L444.9 1049 L446.24 1050.2 L447.58 1048.01 L448.93 1049.21 L450.28 1047.58 L451.64 1049.83 L453 1050.16 L454.36 1049.46 L455.72 1050.53 L457.09 1048.5 L458.46 1049.86 L459.82 1049.48 L461.19 1049.42 L462.55 1048.96 L463.92 1050.33 L465.28 1050.7 L466.64 1048.99 L468 1049.66 L469.35 1047.48 L470.7 1049.78 L472.05 1049.57 L473.39 1050.81 L474.72 1050.19 L476.05 1048.24 L477.38 1048.6 L478.69 1049.61 L480 1047.28 L481.3 1048.86 L482.61 1047.8 L483.92 1047.61 L485.22 1047.39 L486.53 1049.94 L487.84 1047.64 L489.15 1048.06 L490.46 1048.58 L491.77 1050.31 L493.08 1047.46 L494.39 1048.78 L495.7 1049.14 L497.02 1050.34 L498.33 1050.11 L499.64 1050.27 L500.95 1048.17 L502.26 1048.66 L503.58 1048.46 L504.89 1050.35 L506.2 1050.61 L507.51 1047.71 L508.82 1047.8 L510.13 1048 L511.44 1048.01 L512.75 1048.92 L514.06 1049.29 L515.37 1048.12 L516.67 1047.19 L517.98 1048.69 L519.29 1048.51 L520.59 1049.22 L521.89 1050.62 L523.2 1049.67 L524.5 1049.04 L525.8 1049.41 L527.1 1049.63 L528.39 1047.39 L529.69 1050.43 L530.98 1050 L532.28 1050.34 L533.57 1050.07 L534.86 1048.61 L536.15 1048.64 L537.43 1047.57 L538.72 1049.48 L540 1047.42 L541.35 1047.44 L542.73 1047.95 L544.14 1047.78 L545.56 1048.42 L547 1047.39 L548.47 1047.2 L549.95 1047.74 L551.44 1047.57 L552.94 1048.51 L554.46 1047.29 L555.98 1050.35 L557.51 1049.41 L559.04 1047.73 L560.58 1048.11 L562.11 1048.45 L563.65 1048.51 L565.18 1047.64 L566.7 1050.26 L568.22 1050.78 L569.72 1048.88 L571.22 1048.94 L572.7 1047.51 L574.17 1047.57 L575.62 1048.43 L577.04 1048.15 L578.45 1050.18 L579.84 1047.78 L581.2 1047.28 L582.53 1050.62 L583.83 1049.1 L585.1 1047.73 L586.34 1049.16 L587.55 1047.3 L588.71 1049.1 L589.84 1050.72 L590.92 1050.31 L591.97 1049.71 L592.97 1048.14 L593.92 1048.52 L594.82 1047.8 L595.67 1049.98 L596.47 1049.12 L597.21 1050 L597.9 1048.39" fill="none" stroke="#ED1C24" stroke-width="6" stroke-linejoin="round" stroke-linecap="round"/>
<path d="M379 1045.68 L379.69 1047.9 L380.45 1045.4 L381.27 1047.15 L382.15 1045.3 L383.08 1045.81 L384.07 1048.08 L385.11 1045.73 L386.2 1047.04 L387.34 1046.52 L388.52 1046.52 L389.75 1046.67 L391.02 1045.78 L392.33 1047.72 L393.67 1045.52 L395.05 1045.97 L396.46 1045.35 L397.9 1046.11 L399.37 1046.56 L400.86 1048.06 L402.38 1046.51 L403.92 1045.74 L405.48 1046.19 L407.06 1048.4 L408.65 1045.63 L410.25 1047.32 L411.86 1046.6 L413.48 1047.46 L415.11 1046.5 L416.74 1047.57 L418.37 1046.99 L420 1047.45 L421.11 1048.2 L422.23 1047.24 L423.37 1045.92 L424.53 1045.68 L425.7 1048.32 L426.89 1046.95 L428.09 1046.06 L429.31 1048.3 L430.54 1047.19 L431.78 1047.64 L433.03 1048.08 L434.3 1046.29 L435.57 1046.49 L436.86 1048.04 L438.16 1045.8 L439.46 1047.67 L440.78 1045.66 L442.1 1047.42 L443.43 1047.45 L444.77 1048.18 L446.11 1047.84 L447.46 1046.81 L448.81 1045.87 L450.17 1045.72 L451.53 1046.84 L452.9 1046.77 L454.27 1045.44 L455.64 1047.92 L457.01 1046.71 L458.38 1047.28 L459.75 1045.82 L461.13 1045.88 L462.5 1045.17 L463.87 1046.15 L465.24 1045.91 L466.61 1046.36 L467.97 1046.21 L469.33 1047.57 L470.68 1047.73 L472.03 1045.57 L473.38 1046.23 L474.72 1045.53 L476.05 1047.01 L477.37 1047.94 L478.69 1045.61 L480 1047.3 L481.3 1045.9 L482.61 1045.03 L483.92 1047.28 L485.22 1046.01 L486.53 1045.49 L487.84 1046.29 L489.15 1045.67 L490.46 1046.21 L491.77 1046.31 L493.08 1046.23 L494.39 1046.74 L495.7 1045.84 L497.02 1045.26 L498.33 1045.24 L499.64 1045.3 L500.95 1046.55 L502.26 1046.07 L503.58 1047.41 L504.89 1046.5 L506.2 1047.12 L507.51 1047.93 L508.82 1045.19 L510.13 1045.05 L511.44 1045.42 L512.75 1046.16 L514.06 1046.73 L515.37 1047.24 L516.67 1046.07 L517.98 1047.91 L519.29 1045.03 L520.59 1047.53 L521.89 1045.65 L523.2 1047.65 L524.5 1045.12 L525.8 1047.92 L527.1 1047.3 L528.39 1048 L529.69 1046.76 L530.98 1045.56 L532.28 1047.93 L533.57 1046.34 L534.86 1045.27 L536.15 1046.83 L537.43 1046.5 L538.72 1046.42 L540 1045.46 L541.35 1045.36 L542.73 1046.73 L544.14 1046.34 L545.56 1045.35 L547 1046.28 L548.47 1047.13 L549.95 1047.09 L551.44 1046.35 L552.94 1046.1 L554.46 1045.99 L555.98 1045.57 L557.51 1045.48 L559.04 1046.21 L560.58 1045.19 L562.11 1047.02 L563.65 1046.96 L565.18 1046.65 L566.7 1044.87 L568.22 1045.88 L569.72 1046.08 L571.22 1045.04 L572.7 1047.65 L574.17 1047 L575.62 1046.23 L577.04 1046.82 L578.45 1045.3 L579.84 1045.37 L581.2 1046.24 L582.53 1046.88 L583.83 1046.58 L585.1 1044.65 L586.34 1046.45 L587.55 1047.33 L588.71 1046.82 L589.84 1047.36 L590.92 1047.51 L591.97 1045.23 L592.97 1045.44 L593.92 1046.18 L594.82 1047.46 L595.67 1045.63 L596.47 1047.34 L597.21 1047.06 L597.9 1046.05" fill="none" stroke="#ED1C24" stroke-width="5" stroke-linejoin="round" stroke-linecap="round"/>
<path d="M389.6 1047 C390.08 1036.67 391.47 1005.32 392.5 985 C393.53 964.68 395.25 935.08 395.8 925.1" fill="none" stroke="#ED1C24" stroke-width="4.8" stroke-linejoin="round" stroke-linecap="round"/>
<path d="M395.8 925.01 L396.14 925.58 L396.55 925.97 L397.02 928.82 L397.54 927.99 L398.11 930.52 L398.72 932.9 L399.36 932.45 L400.03 935.16 L400.72 936.91 L401.43 937.15 L402.14 939.59 L402.86 941.98 L403.57 942.95 L404.26 945.13 L404.94 945.22 L405.6 946.77 L406.32 947.95 L407.03 950.36 L407.74 952.8 L408.44 953.41 L409.14 955.26 L409.84 955.71 L410.56 957.96 L411.3 957.79 L412.05 959.61 L412.83 961.9 L413.64 963.39 L414.49 964.04 L415.37 964.62 L416.3 966.44 L417.15 967.55 L418.03 968.99 L418.95 971.55 L419.89 971.39 L420.85 974.35 L421.83 975.66 L422.84 974.99 L423.86 977.07 L424.89 978.63 L425.94 978.77 L426.99 980.96 L428.05 983.31 L429.11 982.55 L430.18 984.81 L431.24 984.71 L432.3 986.79 L433.59 988.65 L434.85 987.99 L436.1 988.44 L437.35 989.46 L438.61 991.34 L439.88 990.83 L441.19 991.7 L442.52 993.39 L443.91 995.1 L445.35 994.62 L446.85 995.31 L448.43 996.68 L450.1 996.22 L451.28 998.01 L452.49 997.66 L453.72 999.35 L454.98 1000.84 L456.26 999.33 L457.57 1001.2 L458.9 1002 L460.26 1001.58 L461.64 1002.55 L463.04 1004.97 L464.47 1005.66 L465.93 1004.24 L467.41 1006.31 L468.91 1007.57 L470.44 1006.52 L471.99 1008.07 L473.57 1007.35 L475.17 1008.76 L476.8 1010.12 L478.11 1010.4 L479.46 1011.33 L480.82 1010.16 L482.22 1011.26 L483.64 1012.98 L485.07 1012.79 L486.53 1012.94 L488.01 1013.3 L489.5 1015.17 L491 1014.65 L492.52 1013.77 L494.04 1016.11 L495.58 1015.43 L497.12 1016.13 L498.66 1016.04 L500.2 1017.03 L501.75 1017.18 L503.29 1017.03 L504.83 1018.75 L506.36 1017.89 L507.89 1019.93 L509.41 1018.5 L510.91 1020.7 L512.4 1021.14 L513.87 1020.76 L515.32 1021.63 L516.75 1020.87 L518.17 1022.39 L519.57 1021.98 L520.96 1021.84 L522.35 1023.93 L523.74 1022.89 L525.12 1023.14 L526.51 1024.61 L527.9 1023.73 L529.31 1024.74 L530.72 1023.84 L532.15 1025.73 L533.6 1024.61 L535.07 1024.38 L536.57 1026.87 L538.09 1025.21 L539.65 1027.32 L541.24 1027.68 L542.87 1027.02 L544.53 1025.84 L546.24 1026.2 L548 1026.8 L549.33 1027.41 L550.73 1028.12 L552.19 1029.14 L553.7 1027.85 L555.27 1027.5 L556.88 1028.69 L558.53 1027.84 L560.21 1027.88 L561.93 1029.17 L563.67 1029.67 L565.42 1028.32 L567.19 1029.4 L568.97 1030.16 L570.75 1030.46 L572.53 1029.69 L574.3 1031.05 L576.05 1029.47 L577.79 1030.92 L579.5 1031.19 L581.18 1031.59 L582.83 1030.79 L584.43 1029.97 L585.99 1029.97 L587.5 1031.24 L588.96 1030.5 L590.35 1031.7 L591.67 1030.49 L592.92 1032.26 L594.09 1031.02 L595.18 1030.6 L596.19 1031.07 L597.09 1031.82 L597.9 1032.14" fill="none" stroke="#ED1C24" stroke-width="5.4" stroke-linejoin="round" stroke-linecap="round"/>
<path d="M392 1000.17 L392.08 999 L392.16 998.38 L392.24 996.37 L392.33 996.58 L392.43 995.24 L392.53 993.36 L392.64 990.61 L392.75 989.82 L392.86 987.63 L392.98 985.65 L393.1 985.49 L393.23 983.71 L393.37 979.5 L393.5 979.51 L393.65 976.94 L393.79 974.45 L393.94 972.26 L394.1 971.27 L394.26 968.85 L394.42 967.54 L394.59 965.67 L394.76 962.66 L394.94 962.51 L395.12 961.43 L395.3 959.91 L395.49 957.66 L395.68 955.01 L395.88 953.76 L396.08 953.06 L396.28 954.12 L396.49 951.87 L396.7 951.48 L397.24 951.99 L397.8 950.5 L398.39 951.57 L399.01 952.32 L399.65 952.87 L400.32 955.9 L401.01 958.56 L401.72 959.11 L402.46 961.56 L403.21 964.3 L403.99 965.59 L404.79 968.72 L405.6 971.26 L406.24 972.14 L406.9 973.17 L407.57 975.32 L408.26 975.04 L408.96 977.48 L409.68 978.49 L410.41 980.51 L411.15 980.82 L411.89 983.89 L412.65 983.72 L413.42 985.33 L414.19 988.27 L414.97 989.96 L415.75 990.03 L416.53 991.23 L417.31 992 L418.1 993.16 L419.21 995.4 L420.33 995.66 L421.45 996.73 L422.57 998.66 L423.71 999.01 L424.87 1001.15 L426.04 1002.5 L427.24 1003.29 L428.46 1003.45 L429.71 1004 L430.99 1005.07 L432.3 1004.91 L433.53 1007.41 L434.75 1007.26 L435.98 1007.96 L437.22 1008.09 L438.48 1009.65 L439.76 1010.63 L441.08 1010.82 L442.44 1012.62 L443.85 1012.78 L445.31 1012.39 L446.84 1013.72 L448.43 1015.31 L450.1 1015.05 L451.35 1015.75 L452.63 1014.96 L453.93 1016.49 L455.26 1016.94 L456.62 1017.31 L458.01 1017.88 L459.43 1018.79 L460.87 1019.2 L462.34 1019.59 L463.83 1019.33 L465.36 1020.5 L466.91 1022.27 L468.49 1021.44 L470.1 1021.02 L471.73 1021.42 L473.39 1023.17 L475.08 1022.47 L476.8 1023.02 L478.11 1023.39 L479.46 1024.55 L480.82 1026.16 L482.22 1025.27 L483.64 1025.52 L485.07 1025.78 L486.53 1026.24 L488.01 1026.41 L489.5 1027.38 L491 1028.09 L492.52 1027.91 L494.04 1027.54 L495.58 1028.37 L497.12 1029.28 L498.66 1027.75 L500.2 1028.23 L501.75 1029.42 L503.29 1029.86 L504.83 1030.02 L506.36 1030.16 L507.89 1031.01 L509.41 1030.43 L510.91 1031.48 L512.4 1032.11 L513.87 1031.1 L515.32 1032.38 L516.75 1032.3 L518.17 1032.97 L519.57 1031.2 L520.96 1033.54 L522.35 1033.44 L523.74 1034.16 L525.12 1034.46 L526.51 1033.03 L527.9 1034.2 L529.31 1033.16 L530.72 1034.49 L532.15 1035.49 L533.6 1033.97 L535.07 1034.57 L536.57 1034.13 L538.09 1034.61 L539.65 1034.84 L541.24 1034.76 L542.87 1037.11 L544.53 1037.01 L546.24 1036.16 L548 1036.98 L549.33 1036.98 L550.73 1036.66 L552.19 1036.52 L553.7 1037.19 L555.27 1037.02 L556.88 1036.41 L558.53 1036.73 L560.21 1037.43 L561.93 1037.5 L563.67 1036.57 L565.42 1037.6 L567.19 1038.3 L568.97 1038.35 L570.75 1037.88 L572.53 1036.53 L574.3 1037.43 L576.05 1036.67 L577.79 1036.64 L579.5 1037.16 L581.18 1037.69 L582.83 1038.45 L584.43 1038.18 L585.99 1037.38 L587.5 1038.4 L588.96 1037.98 L590.35 1038.02 L591.67 1037.46 L592.92 1037.92 L594.09 1037.71 L595.18 1038.66 L596.19 1038.1 L597.09 1038.04 L597.9 1038.14" fill="none" stroke="#ED1C24" stroke-width="5.4" stroke-linejoin="round" stroke-linecap="round"/>
<path d="M394 1024.89 L394.46 1023.63 L395.08 1022.26 L396.05 1019.19 L397.6 1018.62 L398.47 1019.14 L399.42 1018.83 L400.45 1020.53 L401.58 1021.92 L402.82 1023.53 L404.19 1023.13 L405.7 1024.88 L407.36 1025.52 L409.2 1028.24 L410.32 1028.46 L411.51 1027.39 L412.77 1030.12 L414.08 1030.56 L415.45 1030.28 L416.86 1030.65 L418.32 1030 L419.81 1030.1 L421.33 1031.78 L422.87 1031.08 L424.43 1031.82 L426 1032.37 L427.58 1032.27 L429.16 1033.72 L430.74 1034.06 L432.3 1035.42 L433.64 1034.99 L434.92 1035.63 L436.14 1035.64 L437.33 1036.38 L438.5 1036.23 L439.66 1036.14 L440.84 1038.2 L442.04 1038.52 L443.28 1038.47 L444.58 1038.46 L445.96 1037.82 L447.43 1037.9 L449 1038.32 L450.69 1038.06 L452.52 1039.98 L454.51 1039.34 L456.66 1040.63 L459 1039.73 L460.11 1041.18 L461.26 1041 L462.43 1039.04 L463.63 1039.62 L464.87 1041.37 L466.13 1040.38 L467.42 1041.66 L468.73 1040.32 L470.08 1039.6 L471.44 1040.99 L472.83 1041.4 L474.25 1040.23 L475.68 1039.83 L477.14 1040.46 L478.62 1042.02 L480.12 1041.56 L481.64 1040.06 L483.17 1040.4 L484.73 1040.09 L486.3 1040.02 L487.89 1041.82 L489.49 1040.36 L491.11 1041.3 L492.74 1041.05 L494.38 1040.46 L496.03 1041.78 L497.7 1040.36 L499.38 1041.61 L501.06 1040.37 L502.76 1041.12 L504.46 1040.64 L506.17 1040.79 L507.89 1042.49 L509.61 1042.11 L511.33 1040.93 L513.06 1042.34 L514.79 1040.75 L516.53 1041.21 L518.26 1042.33 L520 1041.84 L521.38 1040.56 L522.81 1042.71 L524.27 1040.86 L525.77 1040.98 L527.3 1042.23 L528.87 1041.17 L530.46 1041.11 L532.09 1040.58 L533.73 1040.63 L535.41 1041.82 L537.1 1041.02 L538.82 1041.88 L540.55 1041.34 L542.29 1041.54 L544.05 1042.76 L545.82 1041.63 L547.6 1041.85 L549.38 1042.55 L551.17 1040.92 L552.97 1040.85 L554.76 1042.67 L556.55 1042.45 L558.33 1041.09 L560.11 1040.95 L561.88 1042.27 L563.64 1042.75 L565.39 1040.97 L567.12 1042.78 L568.83 1042.61 L570.53 1041.95 L572.2 1041.51 L573.86 1040.75 L575.48 1040.59 L577.08 1042.81 L578.65 1041.07 L580.18 1042.19 L581.68 1041.11 L583.15 1042.47 L584.57 1041.93 L585.96 1041.2 L587.3 1040.91 L588.6 1042.22 L589.85 1040.66 L591.05 1041.04 L592.2 1041.84 L593.3 1042.54 L594.34 1041.97 L595.32 1041.17 L596.24 1042.7 L597.1 1040.99 L597.9 1040.54" fill="none" stroke="#ED1C24" stroke-width="5.4" stroke-linejoin="round" stroke-linecap="round"/>
<path d="M291.1 916.1 L291.1 954.3 L352.8 954.3" fill="none" stroke="#000000" stroke-width="4.5"/>
<text transform="translate(215.04 935.4) scale(1.3870 1)" font-size="18.05" fill="#000000">20 pA</text>
<text transform="translate(288.71 980.8) scale(1.2435 1)" font-size="19.91" fill="#000000">100 ms</text>
<line x1="152.5" y1="1089" x2="152.5" y2="1489.7" stroke="#000000" stroke-width="2.3" stroke-linecap="butt"/>
<line x1="138" y1="1089.6" x2="152.5" y2="1089.6" stroke="#000000" stroke-width="2.3" stroke-linecap="butt"/>
<line x1="138" y1="1223.1" x2="152.5" y2="1223.1" stroke="#000000" stroke-width="2.3" stroke-linecap="butt"/>
<line x1="138" y1="1356.7" x2="152.5" y2="1356.7" stroke="#000000" stroke-width="2.3" stroke-linecap="butt"/>
<line x1="138" y1="1488.7" x2="152.5" y2="1488.7" stroke="#000000" stroke-width="2.3" stroke-linecap="butt"/>
<line x1="171" y1="1497.6" x2="521.5" y2="1497.6" stroke="#000000" stroke-width="2.3" stroke-linecap="butt"/>
<line x1="189" y1="1497" x2="189" y2="1510.3" stroke="#000000" stroke-width="2.3" stroke-linecap="butt"/>
<line x1="286" y1="1497" x2="286" y2="1510.3" stroke="#000000" stroke-width="2.3" stroke-linecap="butt"/>
<line x1="383.5" y1="1497" x2="383.5" y2="1510.3" stroke="#000000" stroke-width="2.3" stroke-linecap="butt"/>
<line x1="481" y1="1497" x2="481" y2="1510.3" stroke="#000000" stroke-width="2.3" stroke-linecap="butt"/>
<line x1="237" y1="1497" x2="237" y2="1504.7" stroke="#000000" stroke-width="2.3" stroke-linecap="butt"/>
<line x1="334.5" y1="1497" x2="334.5" y2="1504.7" stroke="#000000" stroke-width="2.3" stroke-linecap="butt"/>
<line x1="432" y1="1497" x2="432" y2="1504.7" stroke="#000000" stroke-width="2.3" stroke-linecap="butt"/>
<text transform="translate(56.72 1103.4) scale(1.1260 1)" font-size="38.25" fill="#000000">150</text>
<text transform="translate(56.72 1236.9) scale(1.1744 1)" font-size="36.68" fill="#000000">100</text>
<text transform="translate(81.78 1370) scale(1.1259 1)" font-size="38.25" fill="#000000">50</text>
<text transform="translate(105.07 1503.2) scale(1.1298 1)" font-size="39.26" fill="#000000">0</text>
<text transform="translate(165.93 1554.8) scale(1.0501 1)" font-size="38.4" fill="#000000">10</text>
<text transform="translate(264.03 1554.8) scale(1.0184 1)" font-size="38.4" fill="#000000">20</text>
<text transform="translate(362.03 1554.8) scale(1.0064 1)" font-size="38.4" fill="#000000">30</text>
<text transform="translate(460.13 1554.8) scale(0.9919 1)" font-size="38.4" fill="#000000">40</text>
<text transform="translate(236.88 1614.7) scale(1.0769 1)" font-size="37.26" fill="#000000">Stimulus</text>
<text transform="translate(408.27 1613.04) scale(1.0354 1)" font-size="37.87" fill="#000000">(µA)</text>
<text transform="translate(31.6 1382.96) rotate(-90) scale(0.9739 1)" font-size="44.04" fill="#000000">I</text>
<text transform="translate(43.8 1370.25) rotate(-90) scale(0.9292 1)" font-size="30.81" fill="#000000">NMDA</text>
<text transform="translate(28.32 1272.86) rotate(-90) scale(0.7724 1)" font-size="34.67" fill="#000000">(</text>
<text transform="translate(31.95 1262.44) rotate(-90) scale(0.9351 1)" font-size="35.43" fill="#000000">p</text>
<text transform="translate(31.6 1241.66) rotate(-90) scale(0.7657 1)" font-size="39.39" fill="#000000">A</text>
<text transform="translate(28.32 1217.86) rotate(-90) scale(0.7724 1)" font-size="34.67" fill="#000000">)</text>
<path d="M189 1479 L286 1335 L383.6 1243.6 L481.3 1220" fill="none" stroke="#000000" stroke-width="4.2" stroke-dasharray="16 12" stroke-linecap="butt"/>
<line x1="286" y1="1312.4" x2="286" y2="1358" stroke="#000000" stroke-width="4.2" stroke-linecap="butt"/>
<line x1="280.65" y1="1314.4" x2="291.35" y2="1314.4" stroke="#000000" stroke-width="4" stroke-linecap="butt"/>
<line x1="280.65" y1="1356" x2="291.35" y2="1356" stroke="#000000" stroke-width="4" stroke-linecap="butt"/>
<circle cx="286" cy="1335" r="6.5" fill="#000000"/>
<line x1="383.6" y1="1209.6" x2="383.6" y2="1278.7" stroke="#000000" stroke-width="4.2" stroke-linecap="butt"/>
<line x1="378.25" y1="1211.6" x2="388.95" y2="1211.6" stroke="#000000" stroke-width="4" stroke-linecap="butt"/>
<line x1="378.25" y1="1276.7" x2="388.95" y2="1276.7" stroke="#000000" stroke-width="4" stroke-linecap="butt"/>
<circle cx="383.6" cy="1243.6" r="6.5" fill="#000000"/>
<line x1="481.3" y1="1187.8" x2="481.3" y2="1251.9" stroke="#000000" stroke-width="4.2" stroke-linecap="butt"/>
<line x1="475.95" y1="1189.8" x2="486.65" y2="1189.8" stroke="#000000" stroke-width="4" stroke-linecap="butt"/>
<line x1="475.95" y1="1249.9" x2="486.65" y2="1249.9" stroke="#000000" stroke-width="4" stroke-linecap="butt"/>
<circle cx="481.3" cy="1220" r="6.5" fill="#000000"/>
<circle cx="189" cy="1478" r="6.5" fill="#000000"/>
<path d="M189 1480.7 L286 1329.8 L383.6 1195.6 L481.3 1170.6" fill="none" stroke="#ED1C24" stroke-width="4.2" stroke-dasharray="16 12" stroke-linecap="butt"/>
<line x1="286" y1="1298.6" x2="286" y2="1359.7" stroke="#ED1C24" stroke-width="3.8" stroke-linecap="butt"/>
<line x1="280.65" y1="1300.4" x2="291.35" y2="1300.4" stroke="#ED1C24" stroke-width="3.6" stroke-linecap="butt"/>
<line x1="280.65" y1="1357.9" x2="291.35" y2="1357.9" stroke="#ED1C24" stroke-width="3.6" stroke-linecap="butt"/>
<circle cx="286" cy="1329.8" r="6.5" fill="#ED1C24"/>
<line x1="383.6" y1="1148" x2="383.6" y2="1242.8" stroke="#ED1C24" stroke-width="3.8" stroke-linecap="butt"/>
<line x1="378.25" y1="1149.8" x2="388.95" y2="1149.8" stroke="#ED1C24" stroke-width="3.6" stroke-linecap="butt"/>
<line x1="378.25" y1="1241" x2="388.95" y2="1241" stroke="#ED1C24" stroke-width="3.6" stroke-linecap="butt"/>
<circle cx="383.6" cy="1195.6" r="6.5" fill="#ED1C24"/>
<line x1="481.3" y1="1118.7" x2="481.3" y2="1222" stroke="#ED1C24" stroke-width="3.8" stroke-linecap="butt"/>
<line x1="475.95" y1="1120.5" x2="486.65" y2="1120.5" stroke="#ED1C24" stroke-width="3.6" stroke-linecap="butt"/>
<line x1="475.95" y1="1220.2" x2="486.65" y2="1220.2" stroke="#ED1C24" stroke-width="3.6" stroke-linecap="butt"/>
<circle cx="481.3" cy="1170.6" r="6.5" fill="#ED1C24"/>
<circle cx="188" cy="1481" r="6.5" fill="#ED1C24"/>
<path d="M518.8 1153.2 H537 V1233.7 H518.8 V1228.5 H529.2 V1158.4 H518.8 Z" fill="#000"/>
<text transform="translate(545.81 1201.6) scale(1.1257 1)" font-size="37.35" fill="#000000">ns</text>
<text transform="translate(736.82 897.5) scale(0.9885 1)" font-size="58.72" font-weight="bold" fill="#000000">D</text>
<text transform="translate(1022.73 914.1) scale(0.8240 1)" font-size="41.42" fill="#000000">T</text>
<text transform="translate(1047.96 914.1) scale(0.8946 1)" font-size="41.42" fill="#000000">N</text>
<text transform="translate(1077.58 914.1) scale(0.7112 1)" font-size="41.42" fill="#000000">F</text>
<text transform="translate(1100.04 900.72) scale(1.0525 1)" font-size="29" fill="#000000">-/-</text>
<ellipse cx="857" cy="942.1" rx="4.1" ry="3.8" fill="#000"/>
<text transform="translate(877.18 953.1) scale(1.2555 1)" font-size="23.87" fill="#000000" stroke="#000000" stroke-width="0.48">Control</text>
<ellipse cx="1156" cy="945" rx="4.6" ry="3.7" fill="#ED1C24"/>
<text transform="translate(1172.76 952.4) scale(1.3306 1)" font-size="22.2" fill="#000000" stroke="#000000" stroke-width="0.45">Stress</text>
<path d="M802.4 982 C807.5 981.92 822.82 981.62 833 981.5 C843.18 981.38 858.42 981.33 863.5 981.3" fill="none" stroke="#000000" stroke-width="5.2" stroke-linejoin="round" stroke-linecap="round"/>
<path d="M871.3 984.5 C884.42 984.33 922.05 983.92 950 983.5 C977.95 983.08 1024.17 982.25 1039 982" fill="none" stroke="#000000" stroke-width="6" stroke-linejoin="round" stroke-linecap="round"/>
<path d="M871.3 986.9 C872.92 987.52 876.55 990.5 881 990.6 C885.45 990.7 889.83 988.43 898 987.5 C906.17 986.57 919.67 985.58 930 985 C940.33 984.42 955 984.17 960 984" fill="none" stroke="#000000" stroke-width="4" stroke-linejoin="round" stroke-linecap="round"/>
<path d="M871.3 992.6 C872.25 994.83 874.65 1003.22 877 1006 C879.35 1008.78 881.18 1009.9 885.4 1009.3 C889.62 1008.7 895.97 1005.18 902.3 1002.4 C908.63 999.62 916.35 995.17 923.4 992.6 C930.45 990.03 937.55 988.18 944.6 987 C951.65 985.82 958.13 986 965.7 985.5 C973.27 985 985.95 984.25 990 984" fill="none" stroke="#000000" stroke-width="4.6" stroke-linejoin="round" stroke-linecap="round"/>
<path d="M871.3 992.6 C872 997.05 874.1 1011.87 875.5 1019.3 C876.9 1026.73 877.58 1032.92 879.7 1037.2 C881.82 1041.48 884.9 1044.45 888.2 1045 C891.5 1045.55 894.8 1044.07 899.5 1040.5 C904.2 1036.93 910.77 1029.25 916.4 1023.6 C922.03 1017.95 927.43 1011.07 933.3 1006.6 C939.17 1002.13 945.02 999.62 951.6 996.8 C958.18 993.98 965.75 991.58 972.8 989.7 C979.85 987.82 986.87 986.45 993.9 985.5 C1000.93 984.55 1011.48 984.25 1015 984" fill="none" stroke="#000000" stroke-width="4.6" stroke-linejoin="round" stroke-linecap="round"/>
<path d="M1078.3 983.9 C1083.58 983.92 1099.63 983.9 1110 984 C1120.37 984.1 1135.42 984.42 1140.5 984.5" fill="none" stroke="#ED1C24" stroke-width="5.5" stroke-linejoin="round" stroke-linecap="round"/>
<path d="M1200 986 C1208.33 985.8 1230.87 985.15 1250 984.8 C1269.13 984.45 1304 984.05 1314.8 983.9" fill="none" stroke="#ED1C24" stroke-width="5.8" stroke-linejoin="round" stroke-linecap="round"/>
<path d="M1151.6 993.2 C1153.83 993.17 1156.97 994.12 1165 993 C1173.03 991.88 1188.97 987.83 1199.8 986.5 C1210.63 985.17 1224.97 985.25 1230 985" fill="none" stroke="#ED1C24" stroke-width="4.8" stroke-linejoin="round" stroke-linecap="round"/>
<path d="M1150 995.5 C1151.83 996.75 1155.5 1002.75 1161 1003 C1166.5 1003.25 1174 999.42 1183 997 C1192 994.58 1203.83 990.42 1215 988.5 C1226.17 986.58 1244.17 986 1250 985.5" fill="none" stroke="#ED1C24" stroke-width="4.8" stroke-linejoin="round" stroke-linecap="round"/>
<path d="M1149.7 997.8 C1150.75 998.83 1153.83 1002.47 1156 1004 C1158.17 1005.53 1158.48 1007.57 1162.7 1007 C1166.92 1006.43 1173.58 1003.37 1181.3 1000.6 C1189.02 997.83 1199.73 992.87 1209 990.4 C1218.27 987.93 1227.57 986.7 1236.9 985.8 C1246.23 984.9 1260.32 985.13 1265 985" fill="none" stroke="#ED1C24" stroke-width="5" stroke-linejoin="round" stroke-linecap="round"/>
<path d="M1148.8 1003.4 C1149.88 1006.17 1152.67 1015.3 1155.3 1020 C1157.93 1024.7 1160.27 1031.9 1164.6 1031.6 C1168.93 1031.3 1175.43 1023.37 1181.3 1018.2 C1187.17 1013.03 1193.62 1005.08 1199.8 1000.6 C1205.98 996.12 1210.67 993.77 1218.4 991.3 C1226.13 988.83 1235.93 986.88 1246.2 985.8 C1256.47 984.72 1274.37 984.97 1280 984.8" fill="none" stroke="#ED1C24" stroke-width="4.8" stroke-linejoin="round" stroke-linecap="round"/>
<path d="M1041 1028 L1041 1076.8 L1130 1076.8" fill="none" stroke="#000000" stroke-width="4.5"/>
<text transform="translate(968.87 1054.2) scale(1.0477 1)" font-size="22.2" fill="#000000">50 pA</text>
<text transform="translate(1055.15 1105.2) scale(1.2230 1)" font-size="18.76" fill="#000000">20 ms</text>
<line x1="902" y1="1097.3" x2="902" y2="1488.2" stroke="#000000" stroke-width="2.3" stroke-linecap="butt"/>
<line x1="890" y1="1098.3" x2="902" y2="1098.3" stroke="#000000" stroke-width="2.3" stroke-linecap="butt"/>
<line x1="890" y1="1176" x2="902" y2="1176" stroke="#000000" stroke-width="2.3" stroke-linecap="butt"/>
<line x1="890" y1="1253.5" x2="902" y2="1253.5" stroke="#000000" stroke-width="2.3" stroke-linecap="butt"/>
<line x1="890" y1="1332.4" x2="902" y2="1332.4" stroke="#000000" stroke-width="2.3" stroke-linecap="butt"/>
<line x1="890" y1="1410.6" x2="902" y2="1410.6" stroke="#000000" stroke-width="2.3" stroke-linecap="butt"/>
<line x1="890" y1="1487.1" x2="902" y2="1487.1" stroke="#000000" stroke-width="2.3" stroke-linecap="butt"/>
<line x1="917" y1="1495.2" x2="1227" y2="1495.2" stroke="#000000" stroke-width="2.3" stroke-linecap="butt"/>
<line x1="918" y1="1494.5" x2="918" y2="1508" stroke="#000000" stroke-width="2.3" stroke-linecap="butt"/>
<line x1="1020.5" y1="1494.5" x2="1020.5" y2="1508" stroke="#000000" stroke-width="2.3" stroke-linecap="butt"/>
<line x1="1122.8" y1="1494.5" x2="1122.8" y2="1508" stroke="#000000" stroke-width="2.3" stroke-linecap="butt"/>
<line x1="1225" y1="1494.5" x2="1225" y2="1508" stroke="#000000" stroke-width="2.3" stroke-linecap="butt"/>
<text transform="translate(818.46 1111.6) scale(1.0417 1)" font-size="36.96" fill="#000000">250</text>
<text transform="translate(818.46 1189.3) scale(1.0417 1)" font-size="36.96" fill="#000000">200</text>
<text transform="translate(820.15 1266.8) scale(1.0137 1)" font-size="36.96" fill="#000000">150</text>
<text transform="translate(820.15 1345.8) scale(1.0137 1)" font-size="36.96" fill="#000000">100</text>
<text transform="translate(841.71 1424.1) scale(1.0418 1)" font-size="35.67" fill="#000000">50</text>
<text transform="translate(861.48 1502) scale(1.1364 1)" font-size="34.24" fill="#000000">0</text>
<text transform="translate(896.43 1553) scale(0.9586 1)" font-size="39.24" fill="#000000">15</text>
<text transform="translate(1000.3 1553) scale(0.9047 1)" font-size="39.24" fill="#000000">17</text>
<text transform="translate(1102.3 1553) scale(0.9151 1)" font-size="38.68" fill="#000000">19</text>
<text transform="translate(1202.86 1553) scale(0.8956 1)" font-size="38.68" fill="#000000">21</text>
<text transform="translate(976.02 1618.8) scale(0.9592 1)" font-size="38.64" fill="#000000">Stimulus</text>
<text transform="translate(1134.33 1616.92) scale(0.9407 1)" font-size="38.94" fill="#000000">(µA)</text>
<text transform="translate(774.7 1374.76) rotate(-90) scale(1.1457 1)" font-size="38.37" fill="#000000">I</text>
<text transform="translate(785 1362.05) rotate(-90) scale(0.9842 1)" font-size="27.04" fill="#000000">AMPA</text>
<text transform="translate(771.56 1273.09) rotate(-90) scale(0.8979 1)" font-size="34.03" fill="#000000">(</text>
<text transform="translate(774.99 1260.61) rotate(-90) scale(1.2143 1)" font-size="37.18" fill="#000000">p</text>
<text transform="translate(774.6 1236.17) rotate(-90) scale(0.8698 1)" font-size="38.66" fill="#000000">A</text>
<text transform="translate(771.56 1209.27) rotate(-90) scale(0.8313 1)" font-size="34.03" fill="#000000">)</text>
<path d="M918 1453 L923.2 1452.48 L928.41 1451.88 L933.61 1451.19 L938.81 1450.43 L944.02 1449.58 L949.22 1448.66 L954.42 1447.66 L959.63 1446.58 L964.83 1445.41 L970.03 1444.17 L975.24 1442.85 L980.44 1441.45 L985.64 1439.97 L990.85 1438.41 L996.05 1436.77 L1001.25 1435.05 L1006.46 1433.25 L1011.66 1431.37 L1016.86 1429.41 L1022.07 1427.37 L1027.27 1425.25 L1032.47 1423.06 L1037.68 1420.78 L1042.88 1418.42 L1048.08 1415.98 L1053.29 1413.47 L1058.49 1410.87 L1063.69 1408.19 L1068.9 1405.44 L1074.1 1402.6 L1079.31 1399.69 L1084.51 1396.69 L1089.71 1393.62 L1094.92 1390.46 L1100.12 1387.23 L1105.32 1383.91 L1110.53 1380.52 L1115.73 1377.05 L1120.93 1373.49 L1126.14 1369.86 L1131.34 1366.15 L1136.54 1362.36 L1141.75 1358.49 L1146.95 1354.54 L1152.15 1350.5 L1157.36 1346.39 L1162.56 1342.2 L1167.76 1337.93 L1172.97 1333.58 L1178.17 1329.15 L1183.37 1324.64 L1188.58 1320.06 L1193.78 1315.39 L1198.98 1310.64 L1204.19 1305.81 L1209.39 1300.9 L1214.59 1295.92 L1219.8 1290.85 L1225 1285.7" fill="none" stroke="#000000" stroke-width="4.4" stroke-dasharray="16 12" stroke-linecap="butt" stroke-linejoin="round"/>
<line x1="918" y1="1440.7" x2="918" y2="1462" stroke="#000000" stroke-width="4.4" stroke-linecap="butt"/>
<line x1="913" y1="1442.7" x2="923" y2="1442.7" stroke="#000000" stroke-width="4" stroke-linecap="butt"/>
<line x1="913" y1="1460" x2="923" y2="1460" stroke="#000000" stroke-width="4" stroke-linecap="butt"/>
<circle cx="918" cy="1454.2" r="6.6" fill="#000000"/>
<line x1="1020.5" y1="1402.4" x2="1020.5" y2="1446.5" stroke="#000000" stroke-width="4.4" stroke-linecap="butt"/>
<line x1="1015.5" y1="1404.4" x2="1025.5" y2="1404.4" stroke="#000000" stroke-width="4" stroke-linecap="butt"/>
<line x1="1015.5" y1="1444.5" x2="1025.5" y2="1444.5" stroke="#000000" stroke-width="4" stroke-linecap="butt"/>
<circle cx="1020.5" cy="1424.4" r="6.6" fill="#000000"/>
<line x1="1122.8" y1="1331.5" x2="1122.8" y2="1420.5" stroke="#000000" stroke-width="4.4" stroke-linecap="butt"/>
<line x1="1117.8" y1="1333.5" x2="1127.8" y2="1333.5" stroke="#000000" stroke-width="4" stroke-linecap="butt"/>
<line x1="1117.8" y1="1418.5" x2="1127.8" y2="1418.5" stroke="#000000" stroke-width="4" stroke-linecap="butt"/>
<circle cx="1122.8" cy="1375.8" r="6.6" fill="#000000"/>
<line x1="1225" y1="1211.2" x2="1225" y2="1357.2" stroke="#000000" stroke-width="4.4" stroke-linecap="butt"/>
<line x1="1220" y1="1213.2" x2="1230" y2="1213.2" stroke="#000000" stroke-width="4" stroke-linecap="butt"/>
<line x1="1220" y1="1355.2" x2="1230" y2="1355.2" stroke="#000000" stroke-width="4" stroke-linecap="butt"/>
<circle cx="1225" cy="1284.5" r="6.6" fill="#000000"/>
<path d="M918 1468.01 L923.2 1468.14 L928.41 1468.22 L933.61 1468.26 L938.81 1468.24 L944.02 1468.17 L949.22 1468.05 L954.42 1467.89 L959.63 1467.67 L964.83 1467.4 L970.03 1467.08 L975.24 1466.71 L980.44 1466.29 L985.64 1465.82 L990.85 1465.3 L996.05 1464.73 L1001.25 1464.11 L1006.46 1463.44 L1011.66 1462.72 L1016.86 1461.95 L1022.07 1461.12 L1027.27 1460.25 L1032.47 1459.33 L1037.68 1458.36 L1042.88 1457.34 L1048.08 1456.26 L1053.29 1455.14 L1058.49 1453.97 L1063.69 1452.74 L1068.9 1451.47 L1074.1 1450.15 L1079.31 1448.77 L1084.51 1447.35 L1089.71 1445.87 L1094.92 1444.35 L1100.12 1442.77 L1105.32 1441.15 L1110.53 1439.47 L1115.73 1437.75 L1120.93 1435.97 L1126.14 1434.14 L1131.34 1432.27 L1136.54 1430.34 L1141.75 1428.36 L1146.95 1426.33 L1152.15 1424.26 L1157.36 1422.13 L1162.56 1419.95 L1167.76 1417.72 L1172.97 1415.44 L1178.17 1413.12 L1183.37 1410.74 L1188.58 1408.31 L1193.78 1405.83 L1198.98 1403.3 L1204.19 1400.72 L1209.39 1398.09 L1214.59 1395.41 L1219.8 1392.68 L1225 1389.89" fill="none" stroke="#ED1C24" stroke-width="4.4" stroke-dasharray="16 12" stroke-linecap="butt" stroke-linejoin="round"/>
<line x1="918" y1="1461.5" x2="918" y2="1476" stroke="#ED1C24" stroke-width="3.8" stroke-linecap="butt"/>
<line x1="913" y1="1463.4" x2="923" y2="1463.4" stroke="#ED1C24" stroke-width="3.8" stroke-linecap="butt"/>
<line x1="913" y1="1474.1" x2="923" y2="1474.1" stroke="#ED1C24" stroke-width="3.8" stroke-linecap="butt"/>
<circle cx="918" cy="1468.8" r="6.5" fill="#ED1C24"/>
<line x1="1020.5" y1="1452.3" x2="1020.5" y2="1465.6" stroke="#ED1C24" stroke-width="3.8" stroke-linecap="butt"/>
<line x1="1015.5" y1="1454.2" x2="1025.5" y2="1454.2" stroke="#ED1C24" stroke-width="3.8" stroke-linecap="butt"/>
<line x1="1015.5" y1="1463.7" x2="1025.5" y2="1463.7" stroke="#ED1C24" stroke-width="3.8" stroke-linecap="butt"/>
<circle cx="1020.5" cy="1459" r="6.5" fill="#ED1C24"/>
<line x1="1122.8" y1="1427.9" x2="1122.8" y2="1448.3" stroke="#ED1C24" stroke-width="3.8" stroke-linecap="butt"/>
<line x1="1117.8" y1="1429.8" x2="1127.8" y2="1429.8" stroke="#ED1C24" stroke-width="3.8" stroke-linecap="butt"/>
<line x1="1117.8" y1="1446.4" x2="1127.8" y2="1446.4" stroke="#ED1C24" stroke-width="3.8" stroke-linecap="butt"/>
<circle cx="1122.8" cy="1437.7" r="6.5" fill="#ED1C24"/>
<line x1="1225" y1="1371.3" x2="1225" y2="1407.7" stroke="#ED1C24" stroke-width="3.8" stroke-linecap="butt"/>
<line x1="1220" y1="1373.2" x2="1230" y2="1373.2" stroke="#ED1C24" stroke-width="3.8" stroke-linecap="butt"/>
<line x1="1220" y1="1405.8" x2="1230" y2="1405.8" stroke="#ED1C24" stroke-width="3.8" stroke-linecap="butt"/>
<circle cx="1225" cy="1389.1" r="6.5" fill="#ED1C24"/>
<path d="M1252.2 1287.2 H1270.8 V1368.1 H1252.2 V1362.6 H1264.2 V1292.7 H1252.2 Z" fill="#000"/>
<text transform="translate(1286.06 1351.24) scale(1.0178 1)" font-size="39.31" fill="#000000">*</text>
</svg></body></html>
